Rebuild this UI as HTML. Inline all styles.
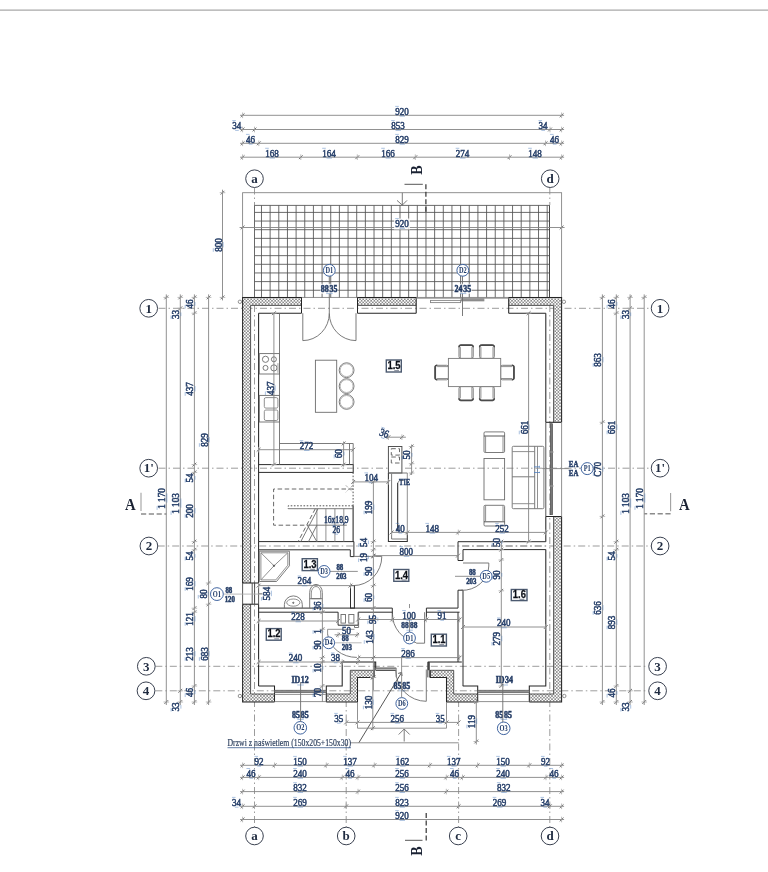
<!DOCTYPE html>
<html><head><meta charset="utf-8"><title>Plan</title>
<style>
html,body{margin:0;padding:0;background:#fff;}
body{width:768px;height:872px;overflow:hidden;font-family:"Liberation Serif",serif;}
svg{display:block;position:absolute;left:0;top:0;filter:blur(0.3px);}
.t{stroke:#858585;stroke-width:.9;fill:none;}
.tk{stroke:#5a5a5a;stroke-width:.85;fill:none;}
.tl{stroke:#a8a8a8;stroke-width:.8;fill:none;}
.k{stroke:#444;stroke-width:.9;fill:none;}
.f{stroke:#6c6c6c;stroke-width:.9;fill:none;}
.tf{stroke:#7a7a7a;stroke-width:.9;fill:#fff;}
.kb{stroke:#4a4a4a;stroke-width:1.5;fill:none;}
.w{stroke:#242424;stroke-width:1.05;fill:none;}
.wf{stroke:#242424;stroke-width:1.05;fill:#fff;}
.wi{stroke:#2c2c2c;stroke-width:1.0;fill:none;}
.wif{stroke:#2c2c2c;stroke-width:1.0;fill:#fff;}
.h{stroke:none;fill:url(#hx);}
.ho{stroke:#222;stroke-width:.7;fill:url(#hx);}
.g{stroke:#525252;stroke-width:.85;fill:none;}
.da{stroke:#8a8a8a;stroke-width:.85;fill:none;stroke-dasharray:7 3 1.5 3;}
.td{stroke:#999;stroke-width:.8;fill:none;stroke-dasharray:3 1.5;}
.ds{stroke:#686868;stroke-width:1;fill:none;stroke-dasharray:4.5 2.6;}
.dd{stroke:#555;stroke-width:1;fill:none;stroke-dasharray:1.6 1.6;}
.sa{stroke:#a0a0a0;stroke-width:1.1;fill:none;}
.secA{stroke:#8c8c8c;stroke-width:1.4;fill:none;stroke-dasharray:5.2 2.6;}
.sec{stroke:#333;stroke-width:1.2;fill:none;stroke-dasharray:5 2.5;}
.bl{stroke:#3f72b8;stroke-width:.8;fill:none;opacity:.55;}
.ac{stroke:#3a4150;stroke-width:1;fill:#fff;}
.tc{stroke:#3f64a0;stroke-width:1;fill:#fff;}
.rb{stroke:#4c5a70;stroke-width:1.4;fill:#fff;}
.ru{stroke:#6a7383;stroke-width:.9;}
text{font-family:"Liberation Serif",serif;}
.d{fill:#1f3252;stroke:#2a4470;stroke-width:.55;}
.ax{fill:#1f2b40;font-weight:bold;font-size:13px;}
.tg{fill:#1f3a68;font-size:8px;font-weight:bold;}
.rm{font-family:"Liberation Sans",sans-serif;font-weight:bold;font-size:11px;fill:#0c1018;stroke:#0c1018;stroke-width:.25;}
.hl{fill:#fff;stroke:none;opacity:.8;}
.b{font-weight:bold;}
.kf{stroke:#4a4a4a;stroke-width:.95;fill:#fff;}
.k2{stroke:#333;stroke-width:1.05;fill:none;}
.dl{fill:#2a3d5c;stroke:#2b3f5e;stroke-width:.2;}
.ul{stroke:#3a5a8c;stroke-width:.8;}
.gb{fill:#b5b5b5;stroke:none;}
.gb2{fill:#8f8f8f;stroke:#555;stroke-width:.6;}
.gb3{fill:#777;stroke:#444;stroke-width:.6;}
.bt{fill:#4f7fc0;}
.sb{fill:#1a2233;font-weight:bold;}
</style></head><body>
<svg width="768" height="872" viewBox="0 0 768 872">
<defs>
<pattern id="hx" width="3.2" height="3.2" patternUnits="userSpaceOnUse">
<rect width="3.2" height="3.2" fill="#fff"/>
<path d="M-0.8,0.8 L0.8,-0.8 M0,3.2 L3.2,0 M2.4,4 L4,2.4 M-0.8,2.4 L0.8,4 M0,0 L3.2,3.2 M2.4,-0.8 L4,0.8" stroke="#3a3a3a" stroke-width=".47" fill="none"/>
</pattern>
</defs>
<rect x="0" y="0" width="768" height="872" fill="#fff"/>
<line x1="0" y1="10.1" x2="768" y2="10.1" stroke="#a8a8a8" stroke-width="1.4"/>
<rect class="t" x="242.60" y="192.70" width="319.00" height="104.70" />
<line class="g" x1="254.50" y1="205.40" x2="254.50" y2="297.40" />
<line class="g" x1="261.47" y1="205.40" x2="261.47" y2="297.40" />
<line class="g" x1="270.13" y1="205.40" x2="270.13" y2="297.40" />
<line class="g" x1="278.79" y1="205.40" x2="278.79" y2="297.40" />
<line class="g" x1="287.44" y1="205.40" x2="287.44" y2="297.40" />
<line class="g" x1="296.10" y1="205.40" x2="296.10" y2="297.40" />
<line class="g" x1="304.76" y1="205.40" x2="304.76" y2="297.40" />
<line class="g" x1="313.42" y1="205.40" x2="313.42" y2="297.40" />
<line class="g" x1="322.08" y1="205.40" x2="322.08" y2="297.40" />
<line class="g" x1="330.73" y1="205.40" x2="330.73" y2="297.40" />
<line class="g" x1="339.39" y1="205.40" x2="339.39" y2="297.40" />
<line class="g" x1="348.05" y1="205.40" x2="348.05" y2="297.40" />
<line class="g" x1="356.71" y1="205.40" x2="356.71" y2="297.40" />
<line class="g" x1="365.37" y1="205.40" x2="365.37" y2="297.40" />
<line class="g" x1="374.02" y1="205.40" x2="374.02" y2="297.40" />
<line class="g" x1="382.68" y1="205.40" x2="382.68" y2="297.40" />
<line class="g" x1="391.34" y1="205.40" x2="391.34" y2="297.40" />
<line class="g" x1="400.00" y1="205.40" x2="400.00" y2="297.40" />
<line class="g" x1="408.66" y1="205.40" x2="408.66" y2="297.40" />
<line class="g" x1="417.31" y1="205.40" x2="417.31" y2="297.40" />
<line class="g" x1="425.97" y1="205.40" x2="425.97" y2="297.40" />
<line class="g" x1="434.63" y1="205.40" x2="434.63" y2="297.40" />
<line class="g" x1="443.29" y1="205.40" x2="443.29" y2="297.40" />
<line class="g" x1="451.95" y1="205.40" x2="451.95" y2="297.40" />
<line class="g" x1="460.60" y1="205.40" x2="460.60" y2="297.40" />
<line class="g" x1="469.26" y1="205.40" x2="469.26" y2="297.40" />
<line class="g" x1="477.92" y1="205.40" x2="477.92" y2="297.40" />
<line class="g" x1="486.58" y1="205.40" x2="486.58" y2="297.40" />
<line class="g" x1="495.24" y1="205.40" x2="495.24" y2="297.40" />
<line class="g" x1="503.89" y1="205.40" x2="503.89" y2="297.40" />
<line class="g" x1="512.55" y1="205.40" x2="512.55" y2="297.40" />
<line class="g" x1="521.21" y1="205.40" x2="521.21" y2="297.40" />
<line class="g" x1="529.87" y1="205.40" x2="529.87" y2="297.40" />
<line class="g" x1="538.53" y1="205.40" x2="538.53" y2="297.40" />
<line class="g" x1="547.18" y1="205.40" x2="547.18" y2="297.40" />
<line class="g" x1="549.50" y1="205.40" x2="549.50" y2="297.40" />
<line class="g" x1="254.50" y1="205.40" x2="549.50" y2="205.40" />
<line class="g" x1="254.50" y1="212.40" x2="549.50" y2="212.40" />
<line class="g" x1="254.50" y1="221.05" x2="549.50" y2="221.05" />
<line class="g" x1="254.50" y1="229.70" x2="549.50" y2="229.70" />
<line class="g" x1="254.50" y1="238.35" x2="549.50" y2="238.35" />
<line class="g" x1="254.50" y1="247.00" x2="549.50" y2="247.00" />
<line class="g" x1="254.50" y1="255.65" x2="549.50" y2="255.65" />
<line class="g" x1="254.50" y1="264.30" x2="549.50" y2="264.30" />
<line class="g" x1="254.50" y1="272.95" x2="549.50" y2="272.95" />
<line class="g" x1="254.50" y1="281.60" x2="549.50" y2="281.60" />
<line class="g" x1="254.50" y1="290.25" x2="549.50" y2="290.25" />
<line class="k" x1="549.50" y1="205.40" x2="549.50" y2="297.40" />
<line class="ds" x1="254.50" y1="205.40" x2="254.50" y2="297.40" />
<line class="t" x1="239.60" y1="227.50" x2="564.60" y2="227.50" />
<line class="tk" x1="240.70" y1="229.40" x2="244.50" y2="225.60" />
<line class="tl" x1="242.60" y1="224.70" x2="242.60" y2="230.30" />
<line class="tk" x1="559.70" y1="229.40" x2="563.50" y2="225.60" />
<line class="tl" x1="561.60" y1="224.70" x2="561.60" y2="230.30" />
<line class="f" x1="402.30" y1="192.80" x2="402.30" y2="205.10" />
<path class="f" d="M397.00,200.40 L402.30,205.10 L407.00,200.40" />
<line class="k" x1="404.50" y1="184.30" x2="422.80" y2="184.30" />
<line class="sec" x1="425.90" y1="184.30" x2="425.90" y2="212.40" />
<text class="sb" transform="translate(422.3,170.1) rotate(-90) scale(0.86,1)" font-size="16.5" text-anchor="middle">B</text>
<line class="da" x1="254.50" y1="187.50" x2="254.50" y2="205.00" />
<line class="da" x1="549.80" y1="187.50" x2="549.80" y2="205.00" />
<line class="da" x1="254.50" y1="700.00" x2="254.50" y2="827.00" />
<line class="da" x1="346.20" y1="700.00" x2="346.20" y2="827.00" />
<line class="da" x1="458.60" y1="700.00" x2="458.60" y2="827.00" />
<line class="da" x1="549.80" y1="700.00" x2="549.80" y2="827.00" />
<line class="da" x1="158.50" y1="308.30" x2="651.00" y2="308.30" />
<line class="da" x1="158.50" y1="468.20" x2="651.00" y2="468.20" />
<line class="da" x1="157.70" y1="546.00" x2="651.00" y2="546.00" />
<line class="da" x1="155.30" y1="666.30" x2="648.50" y2="666.30" />
<line class="da" x1="155.30" y1="690.80" x2="648.50" y2="690.80" />
<line class="da" x1="254.50" y1="305.00" x2="254.50" y2="694.00" />
<line class="da" x1="549.80" y1="305.00" x2="549.80" y2="694.00" />
<rect class="h" x="242.60" y="297.40" width="58.90" height="8.00" />
<rect class="h" x="357.50" y="297.40" width="58.70" height="8.00" />
<rect class="h" x="508.70" y="297.40" width="52.90" height="8.00" />
<rect class="h" x="242.60" y="297.40" width="8.00" height="285.60" />
<rect class="h" x="242.60" y="604.20" width="8.00" height="97.80" />
<rect class="h" x="553.60" y="297.40" width="8.00" height="124.90" />
<rect class="h" x="553.60" y="516.50" width="8.00" height="185.50" />
<rect class="h" x="242.60" y="694.00" width="31.90" height="8.00" />
<path class="h" d="M326.30,694.00 L350.30,694.00 L350.30,670.30 L373.70,670.30 L373.70,677.40 L357.50,677.40 L357.50,702.00 L326.30,702.00 Z" />
<path class="h" d="M477.70,694.00 L453.70,694.00 L453.70,670.30 L430.30,670.30 L430.30,677.40 L446.50,677.40 L446.50,702.00 L477.70,702.00 Z" />
<rect class="h" x="529.30" y="694.00" width="32.30" height="8.00" />
<line class="k" x1="250.60" y1="305.40" x2="301.50" y2="305.40" />
<line class="k" x1="357.50" y1="305.40" x2="416.20" y2="305.40" />
<line class="k" x1="508.70" y1="305.40" x2="553.60" y2="305.40" />
<line class="k" x1="250.60" y1="305.40" x2="250.60" y2="583.00" />
<line class="k" x1="250.60" y1="604.20" x2="250.60" y2="694.00" />
<line class="k" x1="553.60" y1="305.40" x2="553.60" y2="422.30" />
<line class="k" x1="553.60" y1="516.50" x2="553.60" y2="694.00" />
<line class="k" x1="250.60" y1="694.00" x2="274.50" y2="694.00" />
<line class="k" x1="326.30" y1="694.00" x2="350.30" y2="694.00" />
<line class="k" x1="350.30" y1="694.00" x2="350.30" y2="670.30" />
<line class="k" x1="350.30" y1="670.30" x2="373.70" y2="670.30" />
<line class="k" x1="477.70" y1="694.00" x2="453.70" y2="694.00" />
<line class="k" x1="453.70" y1="694.00" x2="453.70" y2="670.30" />
<line class="k" x1="453.70" y1="670.30" x2="430.30" y2="670.30" />
<line class="k" x1="529.30" y1="694.00" x2="553.60" y2="694.00" />
<path class="w" d="M301.50,297.40 L242.60,297.40 L242.60,583.00" />
<path class="w" d="M242.60,604.20 L242.60,702.00 L274.50,702.00" />
<path class="w" d="M326.30,702.00 L357.50,702.00 L357.50,677.40 L373.70,677.40 L373.70,670.30" />
<path class="w" d="M477.70,702.00 L446.50,702.00 L446.50,677.40 L430.30,677.40 L430.30,670.30" />
<path class="w" d="M529.30,702.00 L561.60,702.00 L561.60,516.50" />
<path class="w" d="M561.60,422.30 L561.60,297.40 L508.70,297.40" />
<line class="w" x1="357.50" y1="297.40" x2="416.20" y2="297.40" />
<line class="w" x1="301.50" y1="297.40" x2="301.50" y2="313.20" />
<line class="w" x1="357.50" y1="297.40" x2="357.50" y2="313.20" />
<line class="w" x1="416.20" y1="297.40" x2="416.20" y2="313.20" />
<line class="w" x1="508.70" y1="297.40" x2="508.70" y2="313.20" />
<line class="w" x1="258.60" y1="313.20" x2="301.50" y2="313.20" />
<line class="w" x1="357.50" y1="313.20" x2="416.20" y2="313.20" />
<line class="w" x1="508.70" y1="313.20" x2="545.80" y2="313.20" />
<line class="w" x1="545.80" y1="313.20" x2="545.80" y2="422.30" />
<line class="w" x1="545.80" y1="516.50" x2="545.80" y2="541.70" />
<line class="w" x1="258.60" y1="313.20" x2="258.60" y2="583.00" />
<line class="w" x1="258.60" y1="604.20" x2="258.60" y2="686.00" />
<line class="w" x1="242.60" y1="583.00" x2="258.60" y2="583.00" />
<line class="w" x1="242.60" y1="604.20" x2="258.60" y2="604.20" />
<line class="k" x1="242.60" y1="583.00" x2="242.60" y2="604.20" />
<line class="k" x1="258.60" y1="583.00" x2="258.60" y2="604.20" />
<line class="k" x1="252.20" y1="583.00" x2="252.20" y2="604.20" />
<line class="k" x1="254.60" y1="583.00" x2="254.60" y2="604.20" />
<line class="w" x1="545.80" y1="422.30" x2="561.60" y2="422.30" />
<line class="w" x1="545.80" y1="516.50" x2="561.60" y2="516.50" />
<line class="k" x1="545.80" y1="422.30" x2="545.80" y2="516.50" />
<line class="t" x1="561.60" y1="422.30" x2="561.60" y2="516.50" />
<rect class="gb3" x="550.30" y="423.70" width="2.30" height="91.00" />
<line class="tl" x1="549.00" y1="452.00" x2="554.00" y2="452.00" />
<line class="tl" x1="549.00" y1="486.00" x2="554.00" y2="486.00" />
<path class="w" d="M258.60,686.00 L274.50,686.00 L274.50,702.00" />
<path class="w" d="M326.30,702.00 L326.30,686.00 L342.20,686.00 L342.20,662.00 L375.70,662.00 L375.70,670.30" />
<rect class="gb2" x="274.50" y="690.20" width="51.80" height="2.50" />
<line class="t" x1="274.50" y1="694.40" x2="326.30" y2="694.40" />
<line class="t" x1="274.50" y1="701.60" x2="326.30" y2="701.60" />
<path class="w" d="M545.80,549.60 L545.80,686.00 L529.30,686.00 L529.30,702.00" />
<path class="w" d="M477.70,702.00 L477.70,686.00 L462.80,686.00" />
<path class="w" d="M428.30,670.30 L428.30,662.00 L461.80,662.00" />
<rect class="gb2" x="477.70" y="690.20" width="51.60" height="2.50" />
<line class="t" x1="477.70" y1="694.40" x2="529.30" y2="694.40" />
<line class="t" x1="477.70" y1="701.60" x2="529.30" y2="701.60" />
<circle class="t" cx="239.90" cy="301.80" r="1.70" />
<circle class="t" cx="563.90" cy="301.80" r="1.70" />
<circle class="t" cx="239.90" cy="696.00" r="1.70" />
<circle class="t" cx="564.30" cy="696.00" r="1.70" />
<line class="t" x1="240.10" y1="115.30" x2="564.10" y2="115.30" />
<line class="tk" x1="240.70" y1="117.20" x2="244.50" y2="113.40" />
<line class="tl" x1="242.60" y1="112.50" x2="242.60" y2="118.10" />
<line class="tk" x1="559.70" y1="117.20" x2="563.50" y2="113.40" />
<line class="tl" x1="561.60" y1="112.50" x2="561.60" y2="118.10" />
<line class="t" x1="240.10" y1="129.50" x2="564.10" y2="129.50" />
<line class="tk" x1="240.70" y1="131.40" x2="244.50" y2="127.60" />
<line class="tl" x1="242.60" y1="126.70" x2="242.60" y2="132.30" />
<line class="tk" x1="252.60" y1="131.40" x2="256.40" y2="127.60" />
<line class="tl" x1="254.50" y1="126.70" x2="254.50" y2="132.30" />
<line class="tk" x1="548.10" y1="131.40" x2="551.90" y2="127.60" />
<line class="tl" x1="550.00" y1="126.70" x2="550.00" y2="132.30" />
<line class="tk" x1="559.70" y1="131.40" x2="563.50" y2="127.60" />
<line class="tl" x1="561.60" y1="126.70" x2="561.60" y2="132.30" />
<line class="t" x1="240.10" y1="143.30" x2="564.10" y2="143.30" />
<line class="tk" x1="240.70" y1="145.20" x2="244.50" y2="141.40" />
<line class="tl" x1="242.60" y1="140.50" x2="242.60" y2="146.10" />
<line class="tk" x1="256.90" y1="145.20" x2="260.70" y2="141.40" />
<line class="tl" x1="258.80" y1="140.50" x2="258.80" y2="146.10" />
<line class="tk" x1="543.60" y1="145.20" x2="547.40" y2="141.40" />
<line class="tl" x1="545.50" y1="140.50" x2="545.50" y2="146.10" />
<line class="tk" x1="559.70" y1="145.20" x2="563.50" y2="141.40" />
<line class="tl" x1="561.60" y1="140.50" x2="561.60" y2="146.10" />
<line class="t" x1="240.10" y1="157.20" x2="564.10" y2="157.20" />
<line class="tk" x1="240.70" y1="159.10" x2="244.50" y2="155.30" />
<line class="tl" x1="242.60" y1="154.40" x2="242.60" y2="160.00" />
<line class="tk" x1="298.90" y1="159.10" x2="302.70" y2="155.30" />
<line class="tl" x1="300.80" y1="154.40" x2="300.80" y2="160.00" />
<line class="tk" x1="355.40" y1="159.10" x2="359.20" y2="155.30" />
<line class="tl" x1="357.30" y1="154.40" x2="357.30" y2="160.00" />
<line class="tk" x1="413.40" y1="159.10" x2="417.20" y2="155.30" />
<line class="tl" x1="415.30" y1="154.40" x2="415.30" y2="160.00" />
<line class="tk" x1="507.60" y1="159.10" x2="511.40" y2="155.30" />
<line class="tl" x1="509.50" y1="154.40" x2="509.50" y2="160.00" />
<line class="tk" x1="559.70" y1="159.10" x2="563.50" y2="155.30" />
<line class="tl" x1="561.60" y1="154.40" x2="561.60" y2="160.00" />
<text class="d" transform="translate(402.00,114.60) scale(0.84,1)" font-size="10.8" text-anchor="middle">920</text>
<g transform="translate(402.00,114.60)"><line class="bl" x1="-2.45" y1="1.6" x2="2.99" y2="1.6"/><line class="bl" x1="-6.80" y1="-8.21" x2="-3.20" y2="-8.21"/></g>
<text class="d" transform="translate(398.00,128.80) scale(0.84,1)" font-size="10.8" text-anchor="middle">853</text>
<g transform="translate(398.00,128.80)"><line class="bl" x1="-2.45" y1="1.6" x2="2.99" y2="1.6"/><line class="bl" x1="-6.80" y1="-8.21" x2="-3.20" y2="-8.21"/></g>
<text class="d" transform="translate(402.00,142.60) scale(0.84,1)" font-size="10.8" text-anchor="middle">829</text>
<g transform="translate(402.00,142.60)"><line class="bl" x1="-2.45" y1="1.6" x2="2.99" y2="1.6"/><line class="bl" x1="-6.80" y1="-8.21" x2="-3.20" y2="-8.21"/></g>
<text class="d" transform="translate(236.80,128.80) scale(0.84,1)" font-size="10.8" text-anchor="middle">34</text>
<g transform="translate(236.80,128.80)"><line class="bl" x1="-1.63" y1="1.6" x2="2.00" y2="1.6"/><line class="bl" x1="-4.54" y1="-8.21" x2="-0.94" y2="-8.21"/></g>
<text class="d" transform="translate(250.50,142.60) scale(0.84,1)" font-size="10.8" text-anchor="middle">46</text>
<g transform="translate(250.50,142.60)"><line class="bl" x1="-1.63" y1="1.6" x2="2.00" y2="1.6"/><line class="bl" x1="-4.54" y1="-8.21" x2="-0.94" y2="-8.21"/></g>
<text class="d" transform="translate(543.00,128.80) scale(0.84,1)" font-size="10.8" text-anchor="middle">34</text>
<g transform="translate(543.00,128.80)"><line class="bl" x1="-1.63" y1="1.6" x2="2.00" y2="1.6"/><line class="bl" x1="-4.54" y1="-8.21" x2="-0.94" y2="-8.21"/></g>
<text class="d" transform="translate(554.50,142.60) scale(0.84,1)" font-size="10.8" text-anchor="middle">46</text>
<g transform="translate(554.50,142.60)"><line class="bl" x1="-1.63" y1="1.6" x2="2.00" y2="1.6"/><line class="bl" x1="-4.54" y1="-8.21" x2="-0.94" y2="-8.21"/></g>
<text class="d" transform="translate(272.00,156.50) scale(0.84,1)" font-size="10.8" text-anchor="middle">168</text>
<g transform="translate(272.00,156.50)"><line class="bl" x1="-2.45" y1="1.6" x2="2.99" y2="1.6"/><line class="bl" x1="-6.80" y1="-8.21" x2="-3.20" y2="-8.21"/></g>
<text class="d" transform="translate(329.00,156.50) scale(0.84,1)" font-size="10.8" text-anchor="middle">164</text>
<g transform="translate(329.00,156.50)"><line class="bl" x1="-2.45" y1="1.6" x2="2.99" y2="1.6"/><line class="bl" x1="-6.80" y1="-8.21" x2="-3.20" y2="-8.21"/></g>
<text class="d" transform="translate(388.00,156.50) scale(0.84,1)" font-size="10.8" text-anchor="middle">166</text>
<g transform="translate(388.00,156.50)"><line class="bl" x1="-2.45" y1="1.6" x2="2.99" y2="1.6"/><line class="bl" x1="-6.80" y1="-8.21" x2="-3.20" y2="-8.21"/></g>
<text class="d" transform="translate(462.50,156.50) scale(0.84,1)" font-size="10.8" text-anchor="middle">274</text>
<g transform="translate(462.50,156.50)"><line class="bl" x1="-2.45" y1="1.6" x2="2.99" y2="1.6"/><line class="bl" x1="-6.80" y1="-8.21" x2="-3.20" y2="-8.21"/></g>
<text class="d" transform="translate(535.00,156.50) scale(0.84,1)" font-size="10.8" text-anchor="middle">148</text>
<g transform="translate(535.00,156.50)"><line class="bl" x1="-2.45" y1="1.6" x2="2.99" y2="1.6"/><line class="bl" x1="-6.80" y1="-8.21" x2="-3.20" y2="-8.21"/></g>
<rect class="hl" x="394.00" y="218.50" width="16.00" height="11.00" />
<text class="d" transform="translate(402.00,226.80) scale(0.84,1)" font-size="10.8" text-anchor="middle">920</text>
<g transform="translate(402.00,226.80)"><line class="bl" x1="-2.45" y1="1.6" x2="2.99" y2="1.6"/><line class="bl" x1="-6.80" y1="-8.21" x2="-3.20" y2="-8.21"/></g>
<line class="t" x1="222.50" y1="189.70" x2="222.50" y2="300.40" />
<line class="tk" x1="220.60" y1="194.60" x2="224.40" y2="190.80" />
<line class="tl" x1="219.70" y1="192.70" x2="225.30" y2="192.70" />
<line class="tk" x1="220.60" y1="299.30" x2="224.40" y2="295.50" />
<line class="tl" x1="219.70" y1="297.40" x2="225.30" y2="297.40" />
<text class="d" transform="translate(221.50,245.00) rotate(-90) scale(0.84,1)" font-size="10.8" text-anchor="middle">800</text>
<g transform="translate(221.50,245.00) rotate(-90)"><line class="bl" x1="-2.45" y1="1.6" x2="2.99" y2="1.6"/><line class="bl" x1="-6.80" y1="-8.21" x2="-3.20" y2="-8.21"/></g>
<line class="t" x1="166.30" y1="294.40" x2="166.30" y2="705.00" />
<line class="t" x1="180.30" y1="294.40" x2="180.30" y2="705.00" />
<line class="t" x1="194.40" y1="294.40" x2="194.40" y2="705.00" />
<line class="t" x1="208.60" y1="294.40" x2="208.60" y2="705.00" />
<line class="tk" x1="164.40" y1="299.30" x2="168.20" y2="295.50" />
<line class="tl" x1="163.50" y1="297.40" x2="169.10" y2="297.40" />
<line class="tk" x1="164.40" y1="703.90" x2="168.20" y2="700.10" />
<line class="tl" x1="163.50" y1="702.00" x2="169.10" y2="702.00" />
<line class="tk" x1="178.40" y1="299.30" x2="182.20" y2="295.50" />
<line class="tl" x1="177.50" y1="297.40" x2="183.10" y2="297.40" />
<line class="tk" x1="178.40" y1="703.90" x2="182.20" y2="700.10" />
<line class="tl" x1="177.50" y1="702.00" x2="183.10" y2="702.00" />
<line class="tk" x1="192.50" y1="299.30" x2="196.30" y2="295.50" />
<line class="tl" x1="191.60" y1="297.40" x2="197.20" y2="297.40" />
<line class="tk" x1="192.50" y1="703.90" x2="196.30" y2="700.10" />
<line class="tl" x1="191.60" y1="702.00" x2="197.20" y2="702.00" />
<line class="tk" x1="206.70" y1="299.30" x2="210.50" y2="295.50" />
<line class="tl" x1="205.80" y1="297.40" x2="211.40" y2="297.40" />
<line class="tk" x1="206.70" y1="703.90" x2="210.50" y2="700.10" />
<line class="tl" x1="205.80" y1="702.00" x2="211.40" y2="702.00" />
<line class="tk" x1="178.40" y1="310.20" x2="182.20" y2="306.40" />
<line class="tl" x1="177.50" y1="308.30" x2="183.10" y2="308.30" />
<line class="tk" x1="178.40" y1="692.70" x2="182.20" y2="688.90" />
<line class="tl" x1="177.50" y1="690.80" x2="183.10" y2="690.80" />
<line class="tk" x1="192.50" y1="315.10" x2="196.30" y2="311.30" />
<line class="tl" x1="191.60" y1="313.20" x2="197.20" y2="313.20" />
<line class="tk" x1="192.50" y1="466.50" x2="196.30" y2="462.70" />
<line class="tl" x1="191.60" y1="464.60" x2="197.20" y2="464.60" />
<line class="tk" x1="192.50" y1="474.30" x2="196.30" y2="470.50" />
<line class="tl" x1="191.60" y1="472.40" x2="197.20" y2="472.40" />
<line class="tk" x1="192.50" y1="543.50" x2="196.30" y2="539.70" />
<line class="tl" x1="191.60" y1="541.60" x2="197.20" y2="541.60" />
<line class="tk" x1="192.50" y1="551.70" x2="196.30" y2="547.90" />
<line class="tl" x1="191.60" y1="549.80" x2="197.20" y2="549.80" />
<line class="tk" x1="192.50" y1="610.10" x2="196.30" y2="606.30" />
<line class="tl" x1="191.60" y1="608.20" x2="197.20" y2="608.20" />
<line class="tk" x1="192.50" y1="614.10" x2="196.30" y2="610.30" />
<line class="tl" x1="191.60" y1="612.20" x2="197.20" y2="612.20" />
<line class="tk" x1="192.50" y1="687.90" x2="196.30" y2="684.10" />
<line class="tl" x1="191.60" y1="686.00" x2="197.20" y2="686.00" />
<line class="tk" x1="206.70" y1="584.90" x2="210.50" y2="581.10" />
<line class="tl" x1="205.80" y1="583.00" x2="211.40" y2="583.00" />
<line class="tk" x1="206.70" y1="606.10" x2="210.50" y2="602.30" />
<line class="tl" x1="205.80" y1="604.20" x2="211.40" y2="604.20" />
<text class="d" transform="translate(179.30,314.50) rotate(-90) scale(0.84,1)" font-size="10.8" text-anchor="middle">33</text>
<g transform="translate(179.30,314.50) rotate(-90)"><line class="bl" x1="-1.63" y1="1.6" x2="2.00" y2="1.6"/><line class="bl" x1="-4.54" y1="-8.21" x2="-0.94" y2="-8.21"/></g>
<text class="d" transform="translate(193.40,304.00) rotate(-90) scale(0.84,1)" font-size="10.8" text-anchor="middle">46</text>
<g transform="translate(193.40,304.00) rotate(-90)"><line class="bl" x1="-1.63" y1="1.6" x2="2.00" y2="1.6"/><line class="bl" x1="-4.54" y1="-8.21" x2="-0.94" y2="-8.21"/></g>
<text class="d" transform="translate(193.40,389.00) rotate(-90) scale(0.84,1)" font-size="10.8" text-anchor="middle">437</text>
<g transform="translate(193.40,389.00) rotate(-90)"><line class="bl" x1="-2.45" y1="1.6" x2="2.99" y2="1.6"/><line class="bl" x1="-6.80" y1="-8.21" x2="-3.20" y2="-8.21"/></g>
<text class="d" transform="translate(207.60,440.00) rotate(-90) scale(0.84,1)" font-size="10.8" text-anchor="middle">829</text>
<g transform="translate(207.60,440.00) rotate(-90)"><line class="bl" x1="-2.45" y1="1.6" x2="2.99" y2="1.6"/><line class="bl" x1="-6.80" y1="-8.21" x2="-3.20" y2="-8.21"/></g>
<text class="d" transform="translate(193.40,478.00) rotate(-90) scale(0.84,1)" font-size="10.8" text-anchor="middle">54</text>
<g transform="translate(193.40,478.00) rotate(-90)"><line class="bl" x1="-1.63" y1="1.6" x2="2.00" y2="1.6"/><line class="bl" x1="-4.54" y1="-8.21" x2="-0.94" y2="-8.21"/></g>
<text class="d" transform="translate(165.30,498.50) rotate(-90) scale(0.84,1)" font-size="10.8" text-anchor="middle">1 170</text>
<g transform="translate(165.30,498.50) rotate(-90)"><line class="bl" x1="-4.08" y1="1.6" x2="4.99" y2="1.6"/><line class="bl" x1="-11.34" y1="-8.21" x2="-7.74" y2="-8.21"/></g>
<text class="d" transform="translate(179.30,503.50) rotate(-90) scale(0.84,1)" font-size="10.8" text-anchor="middle">1 103</text>
<g transform="translate(179.30,503.50) rotate(-90)"><line class="bl" x1="-4.08" y1="1.6" x2="4.99" y2="1.6"/><line class="bl" x1="-11.34" y1="-8.21" x2="-7.74" y2="-8.21"/></g>
<text class="d" transform="translate(193.40,511.00) rotate(-90) scale(0.84,1)" font-size="10.8" text-anchor="middle">200</text>
<g transform="translate(193.40,511.00) rotate(-90)"><line class="bl" x1="-2.45" y1="1.6" x2="2.99" y2="1.6"/><line class="bl" x1="-6.80" y1="-8.21" x2="-3.20" y2="-8.21"/></g>
<text class="d" transform="translate(193.40,556.00) rotate(-90) scale(0.84,1)" font-size="10.8" text-anchor="middle">54</text>
<g transform="translate(193.40,556.00) rotate(-90)"><line class="bl" x1="-1.63" y1="1.6" x2="2.00" y2="1.6"/><line class="bl" x1="-4.54" y1="-8.21" x2="-0.94" y2="-8.21"/></g>
<text class="d" transform="translate(193.40,584.00) rotate(-90) scale(0.84,1)" font-size="10.8" text-anchor="middle">169</text>
<g transform="translate(193.40,584.00) rotate(-90)"><line class="bl" x1="-2.45" y1="1.6" x2="2.99" y2="1.6"/><line class="bl" x1="-6.80" y1="-8.21" x2="-3.20" y2="-8.21"/></g>
<text class="d" transform="translate(206.50,594.00) rotate(-90) scale(0.84,1)" font-size="10.8" text-anchor="middle">80</text>
<g transform="translate(206.50,594.00) rotate(-90)"><line class="bl" x1="-1.63" y1="1.6" x2="2.00" y2="1.6"/><line class="bl" x1="-4.54" y1="-8.21" x2="-0.94" y2="-8.21"/></g>
<text class="d" transform="translate(193.40,619.00) rotate(-90) scale(0.84,1)" font-size="10.8" text-anchor="middle">121</text>
<g transform="translate(193.40,619.00) rotate(-90)"><line class="bl" x1="-2.45" y1="1.6" x2="2.99" y2="1.6"/><line class="bl" x1="-6.80" y1="-8.21" x2="-3.20" y2="-8.21"/></g>
<text class="d" transform="translate(193.40,654.00) rotate(-90) scale(0.84,1)" font-size="10.8" text-anchor="middle">213</text>
<g transform="translate(193.40,654.00) rotate(-90)"><line class="bl" x1="-2.45" y1="1.6" x2="2.99" y2="1.6"/><line class="bl" x1="-6.80" y1="-8.21" x2="-3.20" y2="-8.21"/></g>
<text class="d" transform="translate(207.60,654.00) rotate(-90) scale(0.84,1)" font-size="10.8" text-anchor="middle">683</text>
<g transform="translate(207.60,654.00) rotate(-90)"><line class="bl" x1="-2.45" y1="1.6" x2="2.99" y2="1.6"/><line class="bl" x1="-6.80" y1="-8.21" x2="-3.20" y2="-8.21"/></g>
<text class="d" transform="translate(193.40,692.50) rotate(-90) scale(0.84,1)" font-size="10.8" text-anchor="middle">46</text>
<g transform="translate(193.40,692.50) rotate(-90)"><line class="bl" x1="-1.63" y1="1.6" x2="2.00" y2="1.6"/><line class="bl" x1="-4.54" y1="-8.21" x2="-0.94" y2="-8.21"/></g>
<text class="d" transform="translate(179.30,707.00) rotate(-90) scale(0.84,1)" font-size="10.8" text-anchor="middle">33</text>
<g transform="translate(179.30,707.00) rotate(-90)"><line class="bl" x1="-1.63" y1="1.6" x2="2.00" y2="1.6"/><line class="bl" x1="-4.54" y1="-8.21" x2="-0.94" y2="-8.21"/></g>
<line class="t" x1="602.40" y1="294.40" x2="602.40" y2="705.00" />
<line class="t" x1="616.30" y1="294.40" x2="616.30" y2="705.00" />
<line class="t" x1="630.10" y1="294.40" x2="630.10" y2="705.00" />
<line class="t" x1="644.20" y1="294.40" x2="644.20" y2="705.00" />
<line class="tk" x1="600.50" y1="299.30" x2="604.30" y2="295.50" />
<line class="tl" x1="599.60" y1="297.40" x2="605.20" y2="297.40" />
<line class="tk" x1="600.50" y1="703.90" x2="604.30" y2="700.10" />
<line class="tl" x1="599.60" y1="702.00" x2="605.20" y2="702.00" />
<line class="tk" x1="614.40" y1="299.30" x2="618.20" y2="295.50" />
<line class="tl" x1="613.50" y1="297.40" x2="619.10" y2="297.40" />
<line class="tk" x1="614.40" y1="703.90" x2="618.20" y2="700.10" />
<line class="tl" x1="613.50" y1="702.00" x2="619.10" y2="702.00" />
<line class="tk" x1="628.20" y1="299.30" x2="632.00" y2="295.50" />
<line class="tl" x1="627.30" y1="297.40" x2="632.90" y2="297.40" />
<line class="tk" x1="628.20" y1="703.90" x2="632.00" y2="700.10" />
<line class="tl" x1="627.30" y1="702.00" x2="632.90" y2="702.00" />
<line class="tk" x1="642.30" y1="299.30" x2="646.10" y2="295.50" />
<line class="tl" x1="641.40" y1="297.40" x2="647.00" y2="297.40" />
<line class="tk" x1="642.30" y1="703.90" x2="646.10" y2="700.10" />
<line class="tl" x1="641.40" y1="702.00" x2="647.00" y2="702.00" />
<line class="tk" x1="628.20" y1="310.20" x2="632.00" y2="306.40" />
<line class="tl" x1="627.30" y1="308.30" x2="632.90" y2="308.30" />
<line class="tk" x1="628.20" y1="692.70" x2="632.00" y2="688.90" />
<line class="tl" x1="627.30" y1="690.80" x2="632.90" y2="690.80" />
<line class="tk" x1="614.40" y1="315.10" x2="618.20" y2="311.30" />
<line class="tl" x1="613.50" y1="313.20" x2="619.10" y2="313.20" />
<line class="tk" x1="614.40" y1="543.60" x2="618.20" y2="539.80" />
<line class="tl" x1="613.50" y1="541.70" x2="619.10" y2="541.70" />
<line class="tk" x1="614.40" y1="551.70" x2="618.20" y2="547.90" />
<line class="tl" x1="613.50" y1="549.80" x2="619.10" y2="549.80" />
<line class="tk" x1="614.40" y1="687.90" x2="618.20" y2="684.10" />
<line class="tl" x1="613.50" y1="686.00" x2="619.10" y2="686.00" />
<line class="tk" x1="600.50" y1="424.20" x2="604.30" y2="420.40" />
<line class="tl" x1="599.60" y1="422.30" x2="605.20" y2="422.30" />
<line class="tk" x1="600.50" y1="518.30" x2="604.30" y2="514.50" />
<line class="tl" x1="599.60" y1="516.40" x2="605.20" y2="516.40" />
<text class="d" transform="translate(615.30,304.00) rotate(-90) scale(0.84,1)" font-size="10.8" text-anchor="middle">46</text>
<g transform="translate(615.30,304.00) rotate(-90)"><line class="bl" x1="-1.63" y1="1.6" x2="2.00" y2="1.6"/><line class="bl" x1="-4.54" y1="-8.21" x2="-0.94" y2="-8.21"/></g>
<text class="d" transform="translate(629.10,314.50) rotate(-90) scale(0.84,1)" font-size="10.8" text-anchor="middle">33</text>
<g transform="translate(629.10,314.50) rotate(-90)"><line class="bl" x1="-1.63" y1="1.6" x2="2.00" y2="1.6"/><line class="bl" x1="-4.54" y1="-8.21" x2="-0.94" y2="-8.21"/></g>
<text class="d" transform="translate(601.40,360.00) rotate(-90) scale(0.84,1)" font-size="10.8" text-anchor="middle">863</text>
<g transform="translate(601.40,360.00) rotate(-90)"><line class="bl" x1="-2.45" y1="1.6" x2="2.99" y2="1.6"/><line class="bl" x1="-6.80" y1="-8.21" x2="-3.20" y2="-8.21"/></g>
<text class="d" transform="translate(615.30,427.50) rotate(-90) scale(0.84,1)" font-size="10.8" text-anchor="middle">661</text>
<g transform="translate(615.30,427.50) rotate(-90)"><line class="bl" x1="-2.45" y1="1.6" x2="2.99" y2="1.6"/><line class="bl" x1="-6.80" y1="-8.21" x2="-3.20" y2="-8.21"/></g>
<text class="d" transform="translate(629.10,503.50) rotate(-90) scale(0.84,1)" font-size="10.8" text-anchor="middle">1 103</text>
<g transform="translate(629.10,503.50) rotate(-90)"><line class="bl" x1="-4.08" y1="1.6" x2="4.99" y2="1.6"/><line class="bl" x1="-11.34" y1="-8.21" x2="-7.74" y2="-8.21"/></g>
<text class="d" transform="translate(643.20,498.50) rotate(-90) scale(0.84,1)" font-size="10.8" text-anchor="middle">1 170</text>
<g transform="translate(643.20,498.50) rotate(-90)"><line class="bl" x1="-4.08" y1="1.6" x2="4.99" y2="1.6"/><line class="bl" x1="-11.34" y1="-8.21" x2="-7.74" y2="-8.21"/></g>
<text class="d" transform="translate(615.30,556.00) rotate(-90) scale(0.84,1)" font-size="10.8" text-anchor="middle">54</text>
<g transform="translate(615.30,556.00) rotate(-90)"><line class="bl" x1="-1.63" y1="1.6" x2="2.00" y2="1.6"/><line class="bl" x1="-4.54" y1="-8.21" x2="-0.94" y2="-8.21"/></g>
<text class="d" transform="translate(601.40,608.00) rotate(-90) scale(0.84,1)" font-size="10.8" text-anchor="middle">636</text>
<g transform="translate(601.40,608.00) rotate(-90)"><line class="bl" x1="-2.45" y1="1.6" x2="2.99" y2="1.6"/><line class="bl" x1="-6.80" y1="-8.21" x2="-3.20" y2="-8.21"/></g>
<text class="d" transform="translate(615.30,622.50) rotate(-90) scale(0.84,1)" font-size="10.8" text-anchor="middle">893</text>
<g transform="translate(615.30,622.50) rotate(-90)"><line class="bl" x1="-2.45" y1="1.6" x2="2.99" y2="1.6"/><line class="bl" x1="-6.80" y1="-8.21" x2="-3.20" y2="-8.21"/></g>
<text class="d" transform="translate(615.30,693.00) rotate(-90) scale(0.84,1)" font-size="10.8" text-anchor="middle">46</text>
<g transform="translate(615.30,693.00) rotate(-90)"><line class="bl" x1="-1.63" y1="1.6" x2="2.00" y2="1.6"/><line class="bl" x1="-4.54" y1="-8.21" x2="-0.94" y2="-8.21"/></g>
<text class="d" transform="translate(629.10,707.00) rotate(-90) scale(0.84,1)" font-size="10.8" text-anchor="middle">33</text>
<g transform="translate(629.10,707.00) rotate(-90)"><line class="bl" x1="-1.63" y1="1.6" x2="2.00" y2="1.6"/><line class="bl" x1="-4.54" y1="-8.21" x2="-0.94" y2="-8.21"/></g>
<line class="t" x1="240.10" y1="765.30" x2="564.10" y2="765.30" />
<line class="tk" x1="240.70" y1="767.20" x2="244.50" y2="763.40" />
<line class="tl" x1="242.60" y1="762.50" x2="242.60" y2="768.10" />
<line class="tk" x1="272.60" y1="767.20" x2="276.40" y2="763.40" />
<line class="tl" x1="274.50" y1="762.50" x2="274.50" y2="768.10" />
<line class="tk" x1="324.40" y1="767.20" x2="328.20" y2="763.40" />
<line class="tl" x1="326.30" y1="762.50" x2="326.30" y2="768.10" />
<line class="tk" x1="372.40" y1="767.20" x2="376.20" y2="763.40" />
<line class="tl" x1="374.30" y1="762.50" x2="374.30" y2="768.10" />
<line class="tk" x1="427.90" y1="767.20" x2="431.70" y2="763.40" />
<line class="tl" x1="429.80" y1="762.50" x2="429.80" y2="768.10" />
<line class="tk" x1="475.70" y1="767.20" x2="479.50" y2="763.40" />
<line class="tl" x1="477.60" y1="762.50" x2="477.60" y2="768.10" />
<line class="tk" x1="527.40" y1="767.20" x2="531.20" y2="763.40" />
<line class="tl" x1="529.30" y1="762.50" x2="529.30" y2="768.10" />
<line class="tk" x1="559.70" y1="767.20" x2="563.50" y2="763.40" />
<line class="tl" x1="561.60" y1="762.50" x2="561.60" y2="768.10" />
<line class="t" x1="240.10" y1="777.40" x2="564.10" y2="777.40" />
<line class="tk" x1="240.70" y1="779.30" x2="244.50" y2="775.50" />
<line class="tl" x1="242.60" y1="774.60" x2="242.60" y2="780.20" />
<line class="tk" x1="256.80" y1="779.30" x2="260.60" y2="775.50" />
<line class="tl" x1="258.70" y1="774.60" x2="258.70" y2="780.20" />
<line class="tk" x1="340.40" y1="779.30" x2="344.20" y2="775.50" />
<line class="tl" x1="342.30" y1="774.60" x2="342.30" y2="780.20" />
<line class="tk" x1="356.10" y1="779.30" x2="359.90" y2="775.50" />
<line class="tl" x1="358.00" y1="774.60" x2="358.00" y2="780.20" />
<line class="tk" x1="444.40" y1="779.30" x2="448.20" y2="775.50" />
<line class="tl" x1="446.30" y1="774.60" x2="446.30" y2="780.20" />
<line class="tk" x1="460.60" y1="779.30" x2="464.40" y2="775.50" />
<line class="tl" x1="462.50" y1="774.60" x2="462.50" y2="780.20" />
<line class="tk" x1="544.10" y1="779.30" x2="547.90" y2="775.50" />
<line class="tl" x1="546.00" y1="774.60" x2="546.00" y2="780.20" />
<line class="tk" x1="559.70" y1="779.30" x2="563.50" y2="775.50" />
<line class="tl" x1="561.60" y1="774.60" x2="561.60" y2="780.20" />
<line class="t" x1="240.10" y1="791.60" x2="564.10" y2="791.60" />
<line class="tk" x1="240.70" y1="793.50" x2="244.50" y2="789.70" />
<line class="tl" x1="242.60" y1="788.80" x2="242.60" y2="794.40" />
<line class="tk" x1="356.10" y1="793.50" x2="359.90" y2="789.70" />
<line class="tl" x1="358.00" y1="788.80" x2="358.00" y2="794.40" />
<line class="tk" x1="444.40" y1="793.50" x2="448.20" y2="789.70" />
<line class="tl" x1="446.30" y1="788.80" x2="446.30" y2="794.40" />
<line class="tk" x1="559.70" y1="793.50" x2="563.50" y2="789.70" />
<line class="tl" x1="561.60" y1="788.80" x2="561.60" y2="794.40" />
<line class="t" x1="240.10" y1="806.30" x2="564.10" y2="806.30" />
<line class="tk" x1="240.70" y1="808.20" x2="244.50" y2="804.40" />
<line class="tl" x1="242.60" y1="803.50" x2="242.60" y2="809.10" />
<line class="tk" x1="252.60" y1="808.20" x2="256.40" y2="804.40" />
<line class="tl" x1="254.50" y1="803.50" x2="254.50" y2="809.10" />
<line class="tk" x1="344.30" y1="808.20" x2="348.10" y2="804.40" />
<line class="tl" x1="346.20" y1="803.50" x2="346.20" y2="809.10" />
<line class="tk" x1="456.70" y1="808.20" x2="460.50" y2="804.40" />
<line class="tl" x1="458.60" y1="803.50" x2="458.60" y2="809.10" />
<line class="tk" x1="547.90" y1="808.20" x2="551.70" y2="804.40" />
<line class="tl" x1="549.80" y1="803.50" x2="549.80" y2="809.10" />
<line class="tk" x1="559.70" y1="808.20" x2="563.50" y2="804.40" />
<line class="tl" x1="561.60" y1="803.50" x2="561.60" y2="809.10" />
<line class="t" x1="240.10" y1="819.50" x2="564.10" y2="819.50" />
<line class="tk" x1="240.70" y1="821.40" x2="244.50" y2="817.60" />
<line class="tl" x1="242.60" y1="816.70" x2="242.60" y2="822.30" />
<line class="tk" x1="559.70" y1="821.40" x2="563.50" y2="817.60" />
<line class="tl" x1="561.60" y1="816.70" x2="561.60" y2="822.30" />
<text class="d" transform="translate(259.00,764.60) scale(0.84,1)" font-size="10.8" text-anchor="middle">92</text>
<g transform="translate(259.00,764.60)"><line class="bl" x1="-1.63" y1="1.6" x2="2.00" y2="1.6"/><line class="bl" x1="-4.54" y1="-8.21" x2="-0.94" y2="-8.21"/></g>
<text class="d" transform="translate(300.00,764.60) scale(0.84,1)" font-size="10.8" text-anchor="middle">150</text>
<g transform="translate(300.00,764.60)"><line class="bl" x1="-2.45" y1="1.6" x2="2.99" y2="1.6"/><line class="bl" x1="-6.80" y1="-8.21" x2="-3.20" y2="-8.21"/></g>
<text class="d" transform="translate(350.00,764.60) scale(0.84,1)" font-size="10.8" text-anchor="middle">137</text>
<g transform="translate(350.00,764.60)"><line class="bl" x1="-2.45" y1="1.6" x2="2.99" y2="1.6"/><line class="bl" x1="-6.80" y1="-8.21" x2="-3.20" y2="-8.21"/></g>
<text class="d" transform="translate(402.50,764.60) scale(0.84,1)" font-size="10.8" text-anchor="middle">162</text>
<g transform="translate(402.50,764.60)"><line class="bl" x1="-2.45" y1="1.6" x2="2.99" y2="1.6"/><line class="bl" x1="-6.80" y1="-8.21" x2="-3.20" y2="-8.21"/></g>
<text class="d" transform="translate(453.70,764.60) scale(0.84,1)" font-size="10.8" text-anchor="middle">137</text>
<g transform="translate(453.70,764.60)"><line class="bl" x1="-2.45" y1="1.6" x2="2.99" y2="1.6"/><line class="bl" x1="-6.80" y1="-8.21" x2="-3.20" y2="-8.21"/></g>
<text class="d" transform="translate(503.00,764.60) scale(0.84,1)" font-size="10.8" text-anchor="middle">150</text>
<g transform="translate(503.00,764.60)"><line class="bl" x1="-2.45" y1="1.6" x2="2.99" y2="1.6"/><line class="bl" x1="-6.80" y1="-8.21" x2="-3.20" y2="-8.21"/></g>
<text class="d" transform="translate(545.50,764.60) scale(0.84,1)" font-size="10.8" text-anchor="middle">92</text>
<g transform="translate(545.50,764.60)"><line class="bl" x1="-1.63" y1="1.6" x2="2.00" y2="1.6"/><line class="bl" x1="-4.54" y1="-8.21" x2="-0.94" y2="-8.21"/></g>
<text class="d" transform="translate(251.00,776.70) scale(0.84,1)" font-size="10.8" text-anchor="middle">46</text>
<g transform="translate(251.00,776.70)"><line class="bl" x1="-1.63" y1="1.6" x2="2.00" y2="1.6"/><line class="bl" x1="-4.54" y1="-8.21" x2="-0.94" y2="-8.21"/></g>
<text class="d" transform="translate(300.00,776.70) scale(0.84,1)" font-size="10.8" text-anchor="middle">240</text>
<g transform="translate(300.00,776.70)"><line class="bl" x1="-2.45" y1="1.6" x2="2.99" y2="1.6"/><line class="bl" x1="-6.80" y1="-8.21" x2="-3.20" y2="-8.21"/></g>
<text class="d" transform="translate(350.00,776.70) scale(0.84,1)" font-size="10.8" text-anchor="middle">46</text>
<g transform="translate(350.00,776.70)"><line class="bl" x1="-1.63" y1="1.6" x2="2.00" y2="1.6"/><line class="bl" x1="-4.54" y1="-8.21" x2="-0.94" y2="-8.21"/></g>
<text class="d" transform="translate(402.00,776.70) scale(0.84,1)" font-size="10.8" text-anchor="middle">256</text>
<g transform="translate(402.00,776.70)"><line class="bl" x1="-2.45" y1="1.6" x2="2.99" y2="1.6"/><line class="bl" x1="-6.80" y1="-8.21" x2="-3.20" y2="-8.21"/></g>
<text class="d" transform="translate(454.50,776.70) scale(0.84,1)" font-size="10.8" text-anchor="middle">46</text>
<g transform="translate(454.50,776.70)"><line class="bl" x1="-1.63" y1="1.6" x2="2.00" y2="1.6"/><line class="bl" x1="-4.54" y1="-8.21" x2="-0.94" y2="-8.21"/></g>
<text class="d" transform="translate(503.00,776.70) scale(0.84,1)" font-size="10.8" text-anchor="middle">240</text>
<g transform="translate(503.00,776.70)"><line class="bl" x1="-2.45" y1="1.6" x2="2.99" y2="1.6"/><line class="bl" x1="-6.80" y1="-8.21" x2="-3.20" y2="-8.21"/></g>
<text class="d" transform="translate(554.00,776.70) scale(0.84,1)" font-size="10.8" text-anchor="middle">46</text>
<g transform="translate(554.00,776.70)"><line class="bl" x1="-1.63" y1="1.6" x2="2.00" y2="1.6"/><line class="bl" x1="-4.54" y1="-8.21" x2="-0.94" y2="-8.21"/></g>
<text class="d" transform="translate(300.00,790.90) scale(0.84,1)" font-size="10.8" text-anchor="middle">832</text>
<g transform="translate(300.00,790.90)"><line class="bl" x1="-2.45" y1="1.6" x2="2.99" y2="1.6"/><line class="bl" x1="-6.80" y1="-8.21" x2="-3.20" y2="-8.21"/></g>
<text class="d" transform="translate(402.00,790.90) scale(0.84,1)" font-size="10.8" text-anchor="middle">256</text>
<g transform="translate(402.00,790.90)"><line class="bl" x1="-2.45" y1="1.6" x2="2.99" y2="1.6"/><line class="bl" x1="-6.80" y1="-8.21" x2="-3.20" y2="-8.21"/></g>
<text class="d" transform="translate(503.70,790.90) scale(0.84,1)" font-size="10.8" text-anchor="middle">832</text>
<g transform="translate(503.70,790.90)"><line class="bl" x1="-2.45" y1="1.6" x2="2.99" y2="1.6"/><line class="bl" x1="-6.80" y1="-8.21" x2="-3.20" y2="-8.21"/></g>
<text class="d" transform="translate(236.50,805.60) scale(0.84,1)" font-size="10.8" text-anchor="middle">34</text>
<g transform="translate(236.50,805.60)"><line class="bl" x1="-1.63" y1="1.6" x2="2.00" y2="1.6"/><line class="bl" x1="-4.54" y1="-8.21" x2="-0.94" y2="-8.21"/></g>
<text class="d" transform="translate(300.00,805.60) scale(0.84,1)" font-size="10.8" text-anchor="middle">269</text>
<g transform="translate(300.00,805.60)"><line class="bl" x1="-2.45" y1="1.6" x2="2.99" y2="1.6"/><line class="bl" x1="-6.80" y1="-8.21" x2="-3.20" y2="-8.21"/></g>
<text class="d" transform="translate(402.00,805.60) scale(0.84,1)" font-size="10.8" text-anchor="middle">823</text>
<g transform="translate(402.00,805.60)"><line class="bl" x1="-2.45" y1="1.6" x2="2.99" y2="1.6"/><line class="bl" x1="-6.80" y1="-8.21" x2="-3.20" y2="-8.21"/></g>
<text class="d" transform="translate(499.50,805.60) scale(0.84,1)" font-size="10.8" text-anchor="middle">269</text>
<g transform="translate(499.50,805.60)"><line class="bl" x1="-2.45" y1="1.6" x2="2.99" y2="1.6"/><line class="bl" x1="-6.80" y1="-8.21" x2="-3.20" y2="-8.21"/></g>
<text class="d" transform="translate(545.00,805.60) scale(0.84,1)" font-size="10.8" text-anchor="middle">34</text>
<g transform="translate(545.00,805.60)"><line class="bl" x1="-1.63" y1="1.6" x2="2.00" y2="1.6"/><line class="bl" x1="-4.54" y1="-8.21" x2="-0.94" y2="-8.21"/></g>
<text class="d" transform="translate(402.00,818.80) scale(0.84,1)" font-size="10.8" text-anchor="middle">920</text>
<g transform="translate(402.00,818.80)"><line class="bl" x1="-2.45" y1="1.6" x2="2.99" y2="1.6"/><line class="bl" x1="-6.80" y1="-8.21" x2="-3.20" y2="-8.21"/></g>
<circle class="ac" cx="254.50" cy="178.70" r="8.80" />
<text class="ax" x="254.50" y="182.90" text-anchor="middle">a</text>
<circle class="ac" cx="550.20" cy="178.70" r="8.80" />
<text class="ax" x="550.20" y="182.90" text-anchor="middle">d</text>
<circle class="ac" cx="254.50" cy="836.00" r="8.80" />
<text class="ax" x="254.50" y="840.20" text-anchor="middle">a</text>
<circle class="ac" cx="346.20" cy="836.00" r="8.80" />
<text class="ax" x="346.20" y="840.20" text-anchor="middle">b</text>
<circle class="ac" cx="458.20" cy="836.00" r="8.80" />
<text class="ax" x="458.20" y="840.20" text-anchor="middle">c</text>
<circle class="ac" cx="550.00" cy="836.00" r="8.80" />
<text class="ax" x="550.00" y="840.20" text-anchor="middle">d</text>
<circle class="ac" cx="148.70" cy="308.30" r="8.85" />
<text class="ax" x="148.70" y="312.50" text-anchor="middle">1</text>
<circle class="ac" cx="660.10" cy="308.30" r="8.85" />
<text class="ax" x="660.10" y="312.50" text-anchor="middle">1</text>
<circle class="ac" cx="148.70" cy="468.20" r="8.85" />
<text class="ax" x="148.70" y="472.40" text-anchor="middle">1'</text>
<circle class="ac" cx="660.10" cy="468.20" r="8.85" />
<text class="ax" x="660.10" y="472.40" text-anchor="middle">1'</text>
<circle class="ac" cx="148.90" cy="546.00" r="8.85" />
<text class="ax" x="148.90" y="550.20" text-anchor="middle">2</text>
<circle class="ac" cx="660.10" cy="546.00" r="8.85" />
<text class="ax" x="660.10" y="550.20" text-anchor="middle">2</text>
<circle class="ac" cx="146.30" cy="666.30" r="8.85" />
<text class="ax" x="146.30" y="670.50" text-anchor="middle">3</text>
<circle class="ac" cx="657.60" cy="666.30" r="8.85" />
<text class="ax" x="657.60" y="670.50" text-anchor="middle">3</text>
<circle class="ac" cx="146.00" cy="690.80" r="8.85" />
<text class="ax" x="146.00" y="695.00" text-anchor="middle">4</text>
<circle class="ac" cx="657.60" cy="690.80" r="8.85" />
<text class="ax" x="657.60" y="695.00" text-anchor="middle">4</text>
<text class="sb" transform="translate(130.3,509.8) scale(0.9,1)" font-size="16.4" text-anchor="middle">A</text>
<line class="sa" x1="141.00" y1="492.80" x2="141.00" y2="511.00" />
<line class="secA" x1="141.00" y1="514.00" x2="166.40" y2="514.00" />
<text class="sb" transform="translate(684.3,509.8) scale(0.9,1)" font-size="16.4" text-anchor="middle">A</text>
<line class="sa" x1="670.60" y1="493.00" x2="670.60" y2="511.20" />
<line class="secA" x1="670.60" y1="513.80" x2="644.20" y2="513.80" />
<line class="sec" x1="426.20" y1="813.00" x2="426.20" y2="840.50" />
<line class="k" x1="405.00" y1="840.30" x2="422.50" y2="840.30" />
<text class="sb" transform="translate(422.3,851.0) rotate(-90) scale(0.86,1)" font-size="16.5" text-anchor="middle">B</text>
<rect class="wif" x="258.60" y="464.60" width="94.60" height="7.80" />
<path class="wif" d="M258.60,541.60 L353.90,541.60 L353.90,556.60 L350.30,556.60 L350.30,549.80 L258.60,549.80 Z" />
<rect class="wif" x="350.50" y="585.60" width="3.90" height="22.50" />
<path class="wi" d="M258.60,608.10 L392.30,608.10 L392.30,619.50" />
<path class="wi" d="M258.60,612.20 L338.10,612.20 L338.10,625.20 L358.20,625.20 L358.20,612.20 L392.30,612.20" />
<rect class="f" x="341.00" y="614.50" width="4.50" height="8.60" />
<rect class="f" x="348.80" y="614.50" width="5.10" height="8.60" />
<path class="wi" d="M426.40,619.50 L426.40,608.10 L458.00,608.10" />
<path class="wi" d="M426.40,612.20 L459.60,612.20" />
<path class="wi" d="M545.80,541.70 L458.00,541.70 L458.00,560.50 L463.00,560.50 L463.00,549.60 L545.80,549.60" />
<path class="wi" d="M458.00,608.10 L458.00,590.20 L463.00,590.20 L463.00,686.00" />
<line class="wi" x1="458.00" y1="612.20" x2="458.00" y2="662.00" />
<line class="dd" x1="353.10" y1="472.40" x2="353.10" y2="505.80" />
<line class="w" x1="353.10" y1="505.80" x2="353.10" y2="541.60" />
<path class="ds" d="M353.10,489.00 L273.60,489.00 L273.60,525.20 L306.50,525.20" />
<path class="dd" d="M353.10,505.80 L288.20,505.80 L288.20,508.70" />
<line class="f" x1="288.20" y1="508.70" x2="353.10" y2="508.70" />
<line class="t" x1="316.90" y1="508.70" x2="316.90" y2="541.60" />
<line class="t" x1="325.90" y1="508.70" x2="325.90" y2="541.60" />
<line class="t" x1="334.90" y1="508.70" x2="334.90" y2="541.60" />
<line class="t" x1="343.80" y1="508.70" x2="343.80" y2="541.60" />
<line class="f" x1="307.00" y1="525.20" x2="346.80" y2="525.20" />
<line class="f" x1="318.00" y1="508.70" x2="300.80" y2="541.60" />
<line class="ds" x1="315.30" y1="508.70" x2="298.10" y2="541.60" />
<line class="f" x1="316.90" y1="525.20" x2="308.50" y2="541.60" />
<line class="f" x1="307.30" y1="525.20" x2="316.90" y2="541.60" />
<line class="td" x1="345.80" y1="485.30" x2="352.80" y2="492.30" />
<line class="td" x1="352.80" y1="485.30" x2="345.80" y2="492.30" />
<text class="d" transform="translate(336.30,523.00) scale(0.8,1)" font-size="9.5" text-anchor="middle">16x18,9</text>
<text class="d" transform="translate(336.30,532.60) scale(0.8,1)" font-size="9.5" text-anchor="middle">26</text>
<g transform="translate(336.30,532.60)"><line class="bl" x1="-1.37" y1="1.6" x2="1.67" y2="1.6"/><line class="bl" x1="-3.80" y1="-7.22" x2="-0.20" y2="-7.22"/></g>
<rect class="kf" x="388.40" y="446.50" width="13.50" height="26.50" />
<rect class="ds" x="391.30" y="448.70" width="8.20" height="6.40" />
<rect class="ds" x="391.30" y="457.00" width="8.20" height="6.00" />
<path class="k2" d="M388.40,473.00 L388.40,541.50 L407.30,541.50 L407.30,533.00" />
<path class="f" d="M391.60,473.70 L391.60,539.00 L407.30,539.00" />
<line class="t" x1="407.30" y1="473.00" x2="407.30" y2="533.00" />
<line class="f" x1="388.40" y1="473.00" x2="407.30" y2="473.00" />
<line class="w" x1="397.70" y1="483.00" x2="397.70" y2="530.00" />
<path class="f" d="M397.70,483.00 L399.50,480.50 L403.50,480.50" />
<line class="f" x1="279.50" y1="313.20" x2="279.50" y2="464.60" />
<path class="f" d="M279.50,443.50 L353.20,443.50 L353.20,464.60" />
<line class="f" x1="349.50" y1="443.50" x2="349.50" y2="464.60" />
<rect class="f" x="259.30" y="353.60" width="20.20" height="20.40" />
<circle class="f" cx="265.50" cy="359.30" r="3.10" />
<circle class="f" cx="273.90" cy="359.30" r="2.50" />
<circle class="f" cx="265.50" cy="367.90" r="2.50" />
<circle class="f" cx="273.90" cy="367.90" r="3.10" />
<rect class="gb" x="277.30" y="363.20" width="1.30" height="9.60" />
<rect class="f" x="259.30" y="395.40" width="20.20" height="26.60" />
<rect class="t" x="264.30" y="397.60" width="13.60" height="10.50" rx="1.6"/>
<rect class="t" x="264.30" y="410.00" width="13.60" height="10.50" rx="1.6"/>
<rect class="f" x="315.40" y="360.20" width="21.30" height="52.10" />
<circle class="f" cx="346.60" cy="370.20" r="7.40" />
<circle class="tl" cx="346.60" cy="370.20" r="6.40" />
<circle class="f" cx="346.60" cy="386.10" r="7.40" />
<circle class="tl" cx="346.60" cy="386.10" r="6.40" />
<circle class="f" cx="346.60" cy="401.90" r="7.40" />
<circle class="tl" cx="346.60" cy="401.90" r="6.40" />
<rect class="f" x="459.00" y="344.60" width="14.20" height="13.80" rx="1.8"/>
<path class="kb" d="M459.0,347.2 Q459.0,345.3 461.0,345.3 L471.2,345.3 Q473.2,345.3 473.2,347.2" />
<line class="t" x1="460.30" y1="347.10" x2="460.30" y2="358.40" />
<line class="t" x1="471.90" y1="347.10" x2="471.90" y2="358.40" />
<rect class="f" x="479.60" y="344.60" width="14.70" height="13.80" rx="1.8"/>
<path class="kb" d="M479.6,347.2 Q479.6,345.3 481.6,345.3 L492.3,345.3 Q494.3,345.3 494.3,347.2" />
<line class="t" x1="480.90" y1="347.10" x2="480.90" y2="358.40" />
<line class="t" x1="493.00" y1="347.10" x2="493.00" y2="358.40" />
<rect class="f" x="459.00" y="386.60" width="14.20" height="14.30" rx="1.8"/>
<path class="kb" d="M459.0,398.3 Q459.0,400.2 461.0,400.2 L471.2,400.2 Q473.2,400.2 473.2,398.3" />
<line class="t" x1="460.30" y1="386.60" x2="460.30" y2="398.40" />
<line class="t" x1="471.90" y1="386.60" x2="471.90" y2="398.40" />
<rect class="f" x="479.60" y="386.60" width="14.70" height="14.30" rx="1.8"/>
<path class="kb" d="M479.6,398.3 Q479.6,400.2 481.6,400.2 L492.3,400.2 Q494.3,400.2 494.3,398.3" />
<line class="t" x1="480.90" y1="386.60" x2="480.90" y2="398.40" />
<line class="t" x1="493.00" y1="386.60" x2="493.00" y2="398.40" />
<rect class="f" x="434.60" y="365.30" width="13.80" height="14.50" rx="1.8"/>
<path class="kb" d="M437.2,365.3 Q435.3,365.3 435.3,367.3 L435.3,377.8 Q435.3,379.8 437.2,379.8" />
<line class="t" x1="437.10" y1="366.60" x2="448.40" y2="366.60" />
<line class="t" x1="437.10" y1="378.50" x2="448.40" y2="378.50" />
<rect class="f" x="500.70" y="365.30" width="13.80" height="14.50" rx="1.8"/>
<path class="kb" d="M511.9,365.3 Q513.8,365.3 513.8,367.3 L513.8,377.8 Q513.8,379.8 511.9,379.8" />
<line class="t" x1="500.70" y1="366.60" x2="512.00" y2="366.60" />
<line class="t" x1="500.70" y1="378.50" x2="512.00" y2="378.50" />
<rect class="tf" x="448.40" y="358.40" width="52.30" height="28.20" />
<rect class="f" x="484.00" y="431.90" width="20.60" height="20.60" rx="1.2"/>
<line class="k" x1="484.00" y1="436.00" x2="504.60" y2="436.00" />
<line class="t" x1="485.60" y1="436.00" x2="485.60" y2="452.50" />
<line class="t" x1="503.00" y1="436.00" x2="503.00" y2="452.50" />
<rect class="f" x="484.00" y="458.50" width="20.60" height="41.30" />
<rect class="f" x="484.00" y="505.30" width="20.60" height="20.70" rx="1.2"/>
<line class="k" x1="484.00" y1="521.80" x2="504.60" y2="521.80" />
<line class="t" x1="485.60" y1="505.30" x2="485.60" y2="521.80" />
<line class="t" x1="503.00" y1="505.30" x2="503.00" y2="521.80" />
<rect class="f" x="512.20" y="446.30" width="31.70" height="62.40" rx="1.2"/>
<line class="f" x1="534.70" y1="446.30" x2="534.70" y2="508.70" />
<line class="t" x1="537.50" y1="446.30" x2="537.50" y2="508.70" />
<line class="t" x1="512.20" y1="451.60" x2="534.70" y2="451.60" />
<line class="t" x1="512.20" y1="503.70" x2="534.70" y2="503.70" />
<line class="f" x1="512.20" y1="476.80" x2="534.70" y2="476.80" />
<path class="f" d="M259.30,551.20 L289.40,551.20 L289.40,565.80 L276.50,581.50 L259.30,581.50 Z" />
<path class="t" d="M260.90,552.80 L287.80,552.80 L287.80,565.20 L275.80,579.90 L260.90,579.90 Z" />
<line class="t" x1="260.90" y1="552.80" x2="274.00" y2="565.80" />
<line class="t" x1="287.80" y1="552.80" x2="274.00" y2="565.80" />
<line class="t" x1="260.90" y1="579.90" x2="274.00" y2="565.80" />
<circle class="k" cx="274.00" cy="565.80" r="0.70" />
<path class="f" d="M309.7,608.1 L309.7,592.5 A6.3,8.1 0 0 1 322.3,592.5 L322.3,608.1" />
<path class="t" d="M311.3,598.7 L311.3,593.0 A4.7,6.5 0 0 1 320.7,593.0 L320.7,598.7 Z" />
<line class="f" x1="309.70" y1="598.70" x2="322.30" y2="598.70" />
<path class="f" d="M284.4,608.1 L284.4,604.5 A8.95,8.6 0 0 1 302.3,604.5 L302.3,608.1" />
<ellipse class="t" cx="293.30" cy="602.60" rx="6.60" ry="3.60" />
<circle class="k" cx="293.30" cy="602.80" r="0.60" />
<line class="f" x1="302.80" y1="313.20" x2="302.80" y2="340.60" />
<line class="f" x1="356.00" y1="313.20" x2="356.00" y2="340.60" />
<path class="f" d="M329.3,313.3 A26.5,27.3 0 0 1 302.8,340.6" />
<path class="f" d="M329.3,313.3 A26.7,27.3 0 0 0 356.0,340.6" />
<line class="f" x1="329.30" y1="276.00" x2="329.30" y2="313.30" />
<rect class="t" x="430.50" y="300.40" width="30.10" height="2.20" />
<rect class="gb" x="460.60" y="299.00" width="23.70" height="1.80" />
<line class="f" x1="460.60" y1="299.00" x2="484.30" y2="299.00" />
<line class="f" x1="460.60" y1="300.80" x2="484.30" y2="300.80" />
<line class="t" x1="416.20" y1="298.20" x2="508.70" y2="298.20" />
<line class="f" x1="462.50" y1="276.00" x2="462.50" y2="316.00" />
<line class="f" x1="353.90" y1="556.40" x2="381.80" y2="556.40" />
<path class="f" d="M381.8,556.4 A28.5,29.2 0 0 1 353.3,585.6" />
<path class="f" d="M463.00,563.00 L488.80,563.00 L488.80,566.00" />
<path class="f" d="M488.8,566.0 A26.5,25 0 0 1 461.0,590.3" />
<line class="f" x1="424.60" y1="612.20" x2="424.60" y2="643.20" />
<path class="f" d="M392.5,614.0 A30.5,29.2 0 0 0 416.3,642.7" />
<line class="f" x1="416.30" y1="643.20" x2="424.60" y2="643.20" />
<path class="t" d="M327.60,634.00 L327.60,629.30 L354.50,629.30" />
<path class="f" d="M327.6,634.0 A29.3,26 0 0 0 356.9,657.4" />
<path class="f" d="M354.50,625.20 L354.50,627.50 L358.60,627.50 L358.60,612.20" />
<rect class="gb" x="375.70" y="668.00" width="20.50" height="2.50" />
<line class="k" x1="375.70" y1="668.00" x2="396.20" y2="668.00" />
<line class="k" x1="375.70" y1="670.50" x2="396.20" y2="670.50" />
<line class="t" x1="396.20" y1="668.00" x2="396.20" y2="677.30" />
<line class="k" x1="374.30" y1="662.00" x2="374.30" y2="677.40" />
<line class="k" x1="429.40" y1="662.00" x2="429.40" y2="677.40" />
<line class="k" x1="427.80" y1="662.00" x2="427.80" y2="677.40" />
<line class="f" x1="426.30" y1="669.50" x2="426.30" y2="701.30" />
<path class="f" d="M395.8,670.5 A30.5,30.8 0 0 0 426.3,701.3" />
<line class="k" x1="401.60" y1="672.50" x2="358.80" y2="742.80" />
<line class="t" x1="350.00" y1="742.80" x2="458.70" y2="742.80" />
<path class="k" d="M398.20,673.40 L401.60,672.50 L402.00,676.00" />
<line class="t" x1="357.50" y1="702.00" x2="357.50" y2="728.20" />
<line class="t" x1="446.50" y1="702.00" x2="446.50" y2="728.20" />
<line class="t" x1="357.50" y1="728.20" x2="446.50" y2="728.20" />
<line class="f" x1="404.20" y1="741.50" x2="404.20" y2="729.00" />
<path class="f" d="M398.70,734.50 L404.20,729.00 L409.70,734.50" />
<rect class="rb" x="386.30" y="360.00" width="15.00" height="12.00" />
<text class="rm" transform="translate(394.00,369.20) scale(0.86,1)" text-anchor="middle">1.5</text>
<line class="ru" x1="394.30" y1="370.70" x2="399.00" y2="370.70" />
<rect class="rb" x="302.20" y="558.70" width="15.20" height="11.90" />
<text class="rm" transform="translate(310.00,567.80) scale(0.86,1)" text-anchor="middle">1.3</text>
<line class="ru" x1="310.30" y1="569.30" x2="315.00" y2="569.30" />
<rect class="rb" x="393.80" y="569.50" width="15.00" height="11.80" />
<text class="rm" transform="translate(401.50,578.50) scale(0.86,1)" text-anchor="middle">1.4</text>
<line class="ru" x1="401.80" y1="580.00" x2="406.50" y2="580.00" />
<rect class="rb" x="511.30" y="589.50" width="15.70" height="11.10" />
<text class="rm" transform="translate(519.35,597.80) scale(0.86,1)" text-anchor="middle">1.6</text>
<line class="ru" x1="519.65" y1="599.30" x2="524.35" y2="599.30" />
<rect class="rb" x="266.30" y="628.60" width="14.90" height="11.60" />
<text class="rm" transform="translate(273.95,637.40) scale(0.86,1)" text-anchor="middle">1.2</text>
<line class="ru" x1="274.25" y1="638.90" x2="278.95" y2="638.90" />
<rect class="rb" x="431.30" y="634.20" width="15.10" height="11.80" />
<text class="rm" transform="translate(439.05,643.20) scale(0.86,1)" text-anchor="middle">1.1</text>
<line class="ru" x1="439.35" y1="644.70" x2="444.05" y2="644.70" />
<circle class="tc" cx="329.30" cy="270.30" r="5.90" />
<text class="tg" transform="translate(329.30,272.90) scale(0.8,1)" text-anchor="middle">D1</text>
<rect class="hl" x="320.20" y="283.80" width="18.00" height="10.00" />
<text class="d b" transform="translate(324.80,291.80) scale(0.84,1)" font-size="9.5" text-anchor="middle">88</text>
<text class="d b" transform="translate(333.60,291.80) scale(0.84,1)" font-size="9.5" text-anchor="middle">35</text>
<g transform="translate(329.20,291.80)"><line class="bl" x1="-3" y1="1.8" x2="3.5" y2="1.8"/></g>
<circle class="tc" cx="462.80" cy="270.30" r="5.90" />
<text class="tg" transform="translate(462.80,272.90) scale(0.8,1)" text-anchor="middle">D2</text>
<rect class="hl" x="453.80" y="283.80" width="18.00" height="10.00" />
<text class="d b" transform="translate(458.40,291.80) scale(0.84,1)" font-size="9.5" text-anchor="middle">24</text>
<text class="d b" transform="translate(467.20,291.80) scale(0.84,1)" font-size="9.5" text-anchor="middle">35</text>
<g transform="translate(462.80,291.80)"><line class="bl" x1="-3" y1="1.8" x2="3.5" y2="1.8"/></g>
<line class="tl" x1="223.70" y1="594.10" x2="262.50" y2="594.10" />
<circle class="tc" cx="216.90" cy="594.10" r="6.40" />
<text class="tg" transform="translate(216.90,596.70) scale(0.8,1)" text-anchor="middle">O1</text>
<text class="d b" transform="translate(228.80,592.50) scale(0.8,1)" font-size="8.6" text-anchor="middle">88</text>
<text class="d b" transform="translate(229.80,601.70) scale(0.8,1)" font-size="8.6" text-anchor="middle">120</text>
<line class="t" x1="542.30" y1="468.60" x2="568.70" y2="468.60" />
<circle class="tc" cx="587.20" cy="468.60" r="6.00" />
<text class="tg" transform="translate(587.20,471.20) scale(0.8,1)" text-anchor="middle">P1</text>
<text class="d" transform="translate(601.30,469.30) rotate(-90) scale(0.84,1)" font-size="10.5" text-anchor="middle">C70</text>
<g transform="translate(601.30,469.30) rotate(-90)"><line class="bl" x1="-2.38" y1="1.6" x2="2.91" y2="1.6"/><line class="bl" x1="-6.61" y1="-7.98" x2="-3.01" y2="-7.98"/></g>
<text class="d b" transform="translate(573.60,467.00) scale(0.8,1)" font-size="8.6" text-anchor="middle">EA</text>
<text class="d b" transform="translate(573.60,476.20) scale(0.8,1)" font-size="8.6" text-anchor="middle">EA</text>
<line class="t" x1="330.00" y1="571.40" x2="357.80" y2="571.40" />
<circle class="tc" cx="324.10" cy="571.40" r="5.90" />
<text class="tg" transform="translate(324.10,574.00) scale(0.8,1)" text-anchor="middle">D3</text>
<text class="d b" transform="translate(339.80,569.80) scale(0.8,1)" font-size="8.6" text-anchor="middle">88</text>
<text class="d b" transform="translate(341.40,579.00) scale(0.8,1)" font-size="8.6" text-anchor="middle">203</text>
<circle class="tc" cx="486.20" cy="576.30" r="5.90" />
<text class="tg" transform="translate(486.20,578.90) scale(0.8,1)" text-anchor="middle">D5</text>
<text class="d b" transform="translate(472.30,574.70) scale(0.8,1)" font-size="8.6" text-anchor="middle">88</text>
<text class="d b" transform="translate(471.30,583.90) scale(0.8,1)" font-size="8.6" text-anchor="middle">203</text>
<line class="t" x1="455.00" y1="576.30" x2="480.50" y2="576.30" />
<line class="t" x1="409.50" y1="604.00" x2="409.50" y2="608.10" />
<line class="t" x1="409.50" y1="620.00" x2="409.50" y2="632.20" />
<circle class="tc" cx="409.50" cy="638.00" r="5.90" />
<text class="tg" transform="translate(409.50,640.60) scale(0.8,1)" text-anchor="middle">D1</text>
<text class="d b" transform="translate(405.00,628.40) scale(0.84,1)" font-size="8.8" text-anchor="middle">88</text>
<text class="d b" transform="translate(413.80,628.40) scale(0.84,1)" font-size="8.8" text-anchor="middle">88</text>
<g transform="translate(409.40,628.40)"><line class="bl" x1="-3" y1="1.8" x2="3.5" y2="1.8"/></g>
<line class="tl" x1="334.50" y1="642.80" x2="361.60" y2="642.80" />
<circle class="tc" cx="328.70" cy="642.80" r="5.90" />
<text class="tg" transform="translate(328.70,645.40) scale(0.8,1)" text-anchor="middle">D4</text>
<text class="d b" transform="translate(345.20,641.20) scale(0.8,1)" font-size="8.6" text-anchor="middle">88</text>
<text class="d b" transform="translate(346.80,650.40) scale(0.8,1)" font-size="8.6" text-anchor="middle">203</text>
<circle class="tc" cx="401.80" cy="703.50" r="5.90" />
<text class="tg" transform="translate(401.80,706.10) scale(0.8,1)" text-anchor="middle">D6</text>
<text class="d b" transform="translate(397.40,689.00) scale(0.84,1)" font-size="9.5" text-anchor="middle">85</text>
<text class="d b" transform="translate(406.20,689.00) scale(0.84,1)" font-size="9.5" text-anchor="middle">85</text>
<g transform="translate(401.80,689.00)"><line class="bl" x1="-3" y1="1.8" x2="3.5" y2="1.8"/></g>
<line class="t" x1="401.60" y1="657.30" x2="401.60" y2="697.60" />
<circle class="tc" cx="300.30" cy="727.80" r="6.30" />
<text class="tg" transform="translate(300.30,730.40) scale(0.8,1)" text-anchor="middle">O2</text>
<text class="d b" transform="translate(295.90,717.60) scale(0.84,1)" font-size="9.5" text-anchor="middle">85</text>
<text class="d b" transform="translate(304.70,717.60) scale(0.84,1)" font-size="9.5" text-anchor="middle">85</text>
<g transform="translate(300.30,717.60)"><line class="bl" x1="-3" y1="1.8" x2="3.5" y2="1.8"/></g>
<line class="f" x1="300.60" y1="682.00" x2="300.60" y2="721.50" />
<text class="d b" transform="translate(295.90,683.20) scale(0.84,1)" font-size="9.5" text-anchor="middle">ID</text>
<text class="d b" transform="translate(304.70,683.20) scale(0.84,1)" font-size="9.5" text-anchor="middle">12</text>
<g transform="translate(300.30,683.20)"><line class="bl" x1="-3" y1="1.8" x2="3.5" y2="1.8"/></g>
<circle class="tc" cx="503.70" cy="728.30" r="6.30" />
<text class="tg" transform="translate(503.70,730.90) scale(0.8,1)" text-anchor="middle">O3</text>
<text class="d b" transform="translate(499.30,717.60) scale(0.84,1)" font-size="9.5" text-anchor="middle">85</text>
<text class="d b" transform="translate(508.10,717.60) scale(0.84,1)" font-size="9.5" text-anchor="middle">85</text>
<g transform="translate(503.70,717.60)"><line class="bl" x1="-3" y1="1.8" x2="3.5" y2="1.8"/></g>
<line class="f" x1="502.80" y1="682.00" x2="502.80" y2="722.00" />
<text class="d b" transform="translate(500.10,683.20) scale(0.84,1)" font-size="9.5" text-anchor="middle">ID</text>
<text class="d b" transform="translate(508.90,683.20) scale(0.84,1)" font-size="9.5" text-anchor="middle">34</text>
<g transform="translate(504.50,683.20)"><line class="bl" x1="-3" y1="1.8" x2="3.5" y2="1.8"/></g>
<text class="bt" transform="translate(540.00,469.30) rotate(-90) scale(0.84,1)" font-size="8.5" text-anchor="middle">I-1</text>
<line class="t" x1="273.90" y1="313.20" x2="273.90" y2="464.60" />
<line class="tk" x1="272.00" y1="315.10" x2="275.80" y2="311.30" />
<line class="tl" x1="271.10" y1="313.20" x2="276.70" y2="313.20" />
<line class="tk" x1="272.00" y1="466.50" x2="275.80" y2="462.70" />
<line class="tl" x1="271.10" y1="464.60" x2="276.70" y2="464.60" />
<text class="d" transform="translate(273.60,388.30) rotate(-90) scale(0.84,1)" font-size="10.8" text-anchor="middle">437</text>
<g transform="translate(273.60,388.30) rotate(-90)"><line class="bl" x1="-2.45" y1="1.6" x2="2.99" y2="1.6"/><line class="bl" x1="-6.80" y1="-8.21" x2="-3.20" y2="-8.21"/></g>
<line class="t" x1="258.60" y1="449.70" x2="353.20" y2="449.70" />
<line class="tk" x1="256.70" y1="451.60" x2="260.50" y2="447.80" />
<line class="tl" x1="258.60" y1="446.90" x2="258.60" y2="452.50" />
<line class="tk" x1="351.30" y1="451.60" x2="355.10" y2="447.80" />
<line class="tl" x1="353.20" y1="446.90" x2="353.20" y2="452.50" />
<text class="d" transform="translate(306.50,448.90) scale(0.84,1)" font-size="10.8" text-anchor="middle">272</text>
<g transform="translate(306.50,448.90)"><line class="bl" x1="-2.45" y1="1.6" x2="2.99" y2="1.6"/><line class="bl" x1="-6.80" y1="-8.21" x2="-3.20" y2="-8.21"/></g>
<line class="t" x1="343.60" y1="441.50" x2="343.60" y2="466.60" />
<line class="tk" x1="341.70" y1="445.40" x2="345.50" y2="441.60" />
<line class="tl" x1="340.80" y1="443.50" x2="346.40" y2="443.50" />
<line class="tk" x1="341.70" y1="466.50" x2="345.50" y2="462.70" />
<line class="tl" x1="340.80" y1="464.60" x2="346.40" y2="464.60" />
<text class="d" transform="translate(342.40,453.80) rotate(-90) scale(0.84,1)" font-size="10.8" text-anchor="middle">60</text>
<g transform="translate(342.40,453.80) rotate(-90)"><line class="bl" x1="-1.63" y1="1.6" x2="2.00" y2="1.6"/><line class="bl" x1="-4.54" y1="-8.21" x2="-0.94" y2="-8.21"/></g>
<line class="t" x1="384.40" y1="437.20" x2="405.90" y2="437.20" />
<line class="tk" x1="386.50" y1="439.10" x2="390.30" y2="435.30" />
<line class="tl" x1="388.40" y1="434.40" x2="388.40" y2="440.00" />
<line class="tk" x1="400.00" y1="439.10" x2="403.80" y2="435.30" />
<line class="tl" x1="401.90" y1="434.40" x2="401.90" y2="440.00" />
<text class="d" transform="translate(383.00,436.50) rotate(20) scale(0.84,1)" font-size="10.8" text-anchor="middle">36</text>
<g transform="translate(383.00,436.50) rotate(20)"><line class="bl" x1="-1.63" y1="1.6" x2="2.00" y2="1.6"/><line class="bl" x1="-4.54" y1="-8.21" x2="-0.94" y2="-8.21"/></g>
<line class="t" x1="411.60" y1="444.50" x2="411.60" y2="475.00" />
<line class="tk" x1="409.70" y1="448.40" x2="413.50" y2="444.60" />
<line class="tl" x1="408.80" y1="446.50" x2="414.40" y2="446.50" />
<line class="tk" x1="409.70" y1="465.60" x2="413.50" y2="461.80" />
<line class="tl" x1="408.80" y1="463.70" x2="414.40" y2="463.70" />
<line class="tk" x1="409.70" y1="474.90" x2="413.50" y2="471.10" />
<line class="tl" x1="408.80" y1="473.00" x2="414.40" y2="473.00" />
<text class="d" transform="translate(410.40,455.00) rotate(-90) scale(0.84,1)" font-size="10.8" text-anchor="middle">50</text>
<g transform="translate(410.40,455.00) rotate(-90)"><line class="bl" x1="-1.63" y1="1.6" x2="2.00" y2="1.6"/><line class="bl" x1="-4.54" y1="-8.21" x2="-0.94" y2="-8.21"/></g>
<line class="t" x1="353.20" y1="481.90" x2="388.40" y2="481.90" />
<line class="tk" x1="351.30" y1="483.80" x2="355.10" y2="480.00" />
<line class="tl" x1="353.20" y1="479.10" x2="353.20" y2="484.70" />
<line class="tk" x1="386.50" y1="483.80" x2="390.30" y2="480.00" />
<line class="tl" x1="388.40" y1="479.10" x2="388.40" y2="484.70" />
<text class="d" transform="translate(371.20,481.10) scale(0.84,1)" font-size="10.8" text-anchor="middle">104</text>
<g transform="translate(371.20,481.10)"><line class="bl" x1="-2.45" y1="1.6" x2="2.99" y2="1.6"/><line class="bl" x1="-6.80" y1="-8.21" x2="-3.20" y2="-8.21"/></g>
<line class="t" x1="373.40" y1="481.90" x2="373.40" y2="690.00" />
<line class="tk" x1="371.50" y1="483.80" x2="375.30" y2="480.00" />
<line class="tl" x1="370.60" y1="481.90" x2="376.20" y2="481.90" />
<line class="tk" x1="371.50" y1="543.50" x2="375.30" y2="539.70" />
<line class="tl" x1="370.60" y1="541.60" x2="376.20" y2="541.60" />
<line class="tk" x1="371.50" y1="551.70" x2="375.30" y2="547.90" />
<line class="tl" x1="370.60" y1="549.80" x2="376.20" y2="549.80" />
<line class="tk" x1="371.50" y1="558.30" x2="375.30" y2="554.50" />
<line class="tl" x1="370.60" y1="556.40" x2="376.20" y2="556.40" />
<line class="tk" x1="371.50" y1="587.50" x2="375.30" y2="583.70" />
<line class="tl" x1="370.60" y1="585.60" x2="376.20" y2="585.60" />
<line class="tk" x1="371.50" y1="610.00" x2="375.30" y2="606.20" />
<line class="tl" x1="370.60" y1="608.10" x2="376.20" y2="608.10" />
<line class="tk" x1="371.50" y1="621.40" x2="375.30" y2="617.60" />
<line class="tl" x1="370.60" y1="619.50" x2="376.20" y2="619.50" />
<line class="tk" x1="371.50" y1="659.50" x2="375.30" y2="655.70" />
<line class="tl" x1="370.60" y1="657.60" x2="376.20" y2="657.60" />
<line class="tk" x1="371.50" y1="679.30" x2="375.30" y2="675.50" />
<line class="tl" x1="370.60" y1="677.40" x2="376.20" y2="677.40" />
<text class="d" transform="translate(372.30,507.50) rotate(-90) scale(0.84,1)" font-size="10.8" text-anchor="middle">199</text>
<g transform="translate(372.30,507.50) rotate(-90)"><line class="bl" x1="-2.45" y1="1.6" x2="2.99" y2="1.6"/><line class="bl" x1="-6.80" y1="-8.21" x2="-3.20" y2="-8.21"/></g>
<text class="d" transform="translate(366.80,542.50) rotate(-90) scale(0.84,1)" font-size="10.8" text-anchor="middle">54</text>
<g transform="translate(366.80,542.50) rotate(-90)"><line class="bl" x1="-1.63" y1="1.6" x2="2.00" y2="1.6"/><line class="bl" x1="-4.54" y1="-8.21" x2="-0.94" y2="-8.21"/></g>
<text class="d" transform="translate(366.80,557.50) rotate(-90) scale(0.84,1)" font-size="10.8" text-anchor="middle">19</text>
<g transform="translate(366.80,557.50) rotate(-90)"><line class="bl" x1="-1.63" y1="1.6" x2="2.00" y2="1.6"/><line class="bl" x1="-4.54" y1="-8.21" x2="-0.94" y2="-8.21"/></g>
<text class="d" transform="translate(372.30,571.30) rotate(-90) scale(0.84,1)" font-size="10.8" text-anchor="middle">90</text>
<g transform="translate(372.30,571.30) rotate(-90)"><line class="bl" x1="-1.63" y1="1.6" x2="2.00" y2="1.6"/><line class="bl" x1="-4.54" y1="-8.21" x2="-0.94" y2="-8.21"/></g>
<text class="d" transform="translate(372.30,597.50) rotate(-90) scale(0.84,1)" font-size="10.8" text-anchor="middle">60</text>
<g transform="translate(372.30,597.50) rotate(-90)"><line class="bl" x1="-1.63" y1="1.6" x2="2.00" y2="1.6"/><line class="bl" x1="-4.54" y1="-8.21" x2="-0.94" y2="-8.21"/></g>
<text class="d" transform="translate(376.20,619.50) rotate(-90) scale(0.84,1)" font-size="11" text-anchor="middle">95</text>
<g transform="translate(376.20,619.50) rotate(-90)"><line class="bl" x1="-1.66" y1="1.6" x2="2.03" y2="1.6"/><line class="bl" x1="-4.62" y1="-8.36" x2="-1.02" y2="-8.36"/></g>
<text class="d" transform="translate(372.50,637.00) rotate(-90) scale(0.84,1)" font-size="10.8" text-anchor="middle">143</text>
<g transform="translate(372.50,637.00) rotate(-90)"><line class="bl" x1="-2.45" y1="1.6" x2="2.99" y2="1.6"/><line class="bl" x1="-6.80" y1="-8.21" x2="-3.20" y2="-8.21"/></g>
<text class="d" transform="translate(404.60,484.60) scale(0.84,1)" font-size="8.5" text-anchor="middle">TIE</text>
<line class="t" x1="391.60" y1="532.40" x2="545.80" y2="532.40" />
<line class="tk" x1="389.70" y1="534.30" x2="393.50" y2="530.50" />
<line class="tl" x1="391.60" y1="529.60" x2="391.60" y2="535.20" />
<line class="tk" x1="405.40" y1="534.30" x2="409.20" y2="530.50" />
<line class="tl" x1="407.30" y1="529.60" x2="407.30" y2="535.20" />
<line class="tk" x1="456.40" y1="534.30" x2="460.20" y2="530.50" />
<line class="tl" x1="458.30" y1="529.60" x2="458.30" y2="535.20" />
<line class="tk" x1="543.90" y1="534.30" x2="547.70" y2="530.50" />
<line class="tl" x1="545.80" y1="529.60" x2="545.80" y2="535.20" />
<text class="d" transform="translate(400.20,531.60) scale(0.84,1)" font-size="10.8" text-anchor="middle">40</text>
<g transform="translate(400.20,531.60)"><line class="bl" x1="-1.63" y1="1.6" x2="2.00" y2="1.6"/><line class="bl" x1="-4.54" y1="-8.21" x2="-0.94" y2="-8.21"/></g>
<text class="d" transform="translate(432.20,531.60) scale(0.84,1)" font-size="10.8" text-anchor="middle">148</text>
<g transform="translate(432.20,531.60)"><line class="bl" x1="-2.45" y1="1.6" x2="2.99" y2="1.6"/><line class="bl" x1="-6.80" y1="-8.21" x2="-3.20" y2="-8.21"/></g>
<text class="d" transform="translate(502.00,531.60) scale(0.84,1)" font-size="10.8" text-anchor="middle">252</text>
<g transform="translate(502.00,531.60)"><line class="bl" x1="-2.45" y1="1.6" x2="2.99" y2="1.6"/><line class="bl" x1="-6.80" y1="-8.21" x2="-3.20" y2="-8.21"/></g>
<line class="t" x1="373.40" y1="555.60" x2="458.00" y2="555.60" />
<line class="tk" x1="371.50" y1="557.50" x2="375.30" y2="553.70" />
<line class="tl" x1="373.40" y1="552.80" x2="373.40" y2="558.40" />
<line class="tk" x1="456.10" y1="557.50" x2="459.90" y2="553.70" />
<line class="tl" x1="458.00" y1="552.80" x2="458.00" y2="558.40" />
<text class="d" transform="translate(406.20,554.80) scale(0.84,1)" font-size="10.8" text-anchor="middle">800</text>
<g transform="translate(406.20,554.80)"><line class="bl" x1="-2.45" y1="1.6" x2="2.99" y2="1.6"/><line class="bl" x1="-6.80" y1="-8.21" x2="-3.20" y2="-8.21"/></g>
<line class="t" x1="528.60" y1="313.20" x2="528.60" y2="541.70" />
<line class="tk" x1="526.70" y1="315.10" x2="530.50" y2="311.30" />
<line class="tl" x1="525.80" y1="313.20" x2="531.40" y2="313.20" />
<line class="tk" x1="526.70" y1="543.60" x2="530.50" y2="539.80" />
<line class="tl" x1="525.80" y1="541.70" x2="531.40" y2="541.70" />
<text class="d" transform="translate(527.50,427.50) rotate(-90) scale(0.84,1)" font-size="10.8" text-anchor="middle">661</text>
<g transform="translate(527.50,427.50) rotate(-90)"><line class="bl" x1="-2.45" y1="1.6" x2="2.99" y2="1.6"/><line class="bl" x1="-6.80" y1="-8.21" x2="-3.20" y2="-8.21"/></g>
<line class="t" x1="501.30" y1="541.70" x2="501.30" y2="686.00" />
<line class="tk" x1="499.40" y1="543.60" x2="503.20" y2="539.80" />
<line class="tl" x1="498.50" y1="541.70" x2="504.10" y2="541.70" />
<line class="tk" x1="499.40" y1="551.50" x2="503.20" y2="547.70" />
<line class="tl" x1="498.50" y1="549.60" x2="504.10" y2="549.60" />
<line class="tk" x1="499.40" y1="561.90" x2="503.20" y2="558.10" />
<line class="tl" x1="498.50" y1="560.00" x2="504.10" y2="560.00" />
<line class="tk" x1="499.40" y1="592.70" x2="503.20" y2="588.90" />
<line class="tl" x1="498.50" y1="590.80" x2="504.10" y2="590.80" />
<line class="tk" x1="499.40" y1="687.90" x2="503.20" y2="684.10" />
<line class="tl" x1="498.50" y1="686.00" x2="504.10" y2="686.00" />
<text class="d" transform="translate(500.20,542.50) rotate(-90) scale(0.84,1)" font-size="10.8" text-anchor="middle">50</text>
<g transform="translate(500.20,542.50) rotate(-90)"><line class="bl" x1="-1.63" y1="1.6" x2="2.00" y2="1.6"/><line class="bl" x1="-4.54" y1="-8.21" x2="-0.94" y2="-8.21"/></g>
<text class="d" transform="translate(500.20,575.00) rotate(-90) scale(0.84,1)" font-size="10.8" text-anchor="middle">90</text>
<g transform="translate(500.20,575.00) rotate(-90)"><line class="bl" x1="-1.63" y1="1.6" x2="2.00" y2="1.6"/><line class="bl" x1="-4.54" y1="-8.21" x2="-0.94" y2="-8.21"/></g>
<text class="d" transform="translate(500.20,638.80) rotate(-90) scale(0.84,1)" font-size="10.8" text-anchor="middle">279</text>
<g transform="translate(500.20,638.80) rotate(-90)"><line class="bl" x1="-2.45" y1="1.6" x2="2.99" y2="1.6"/><line class="bl" x1="-6.80" y1="-8.21" x2="-3.20" y2="-8.21"/></g>
<line class="t" x1="463.00" y1="627.00" x2="545.80" y2="627.00" />
<line class="tk" x1="461.10" y1="628.90" x2="464.90" y2="625.10" />
<line class="tl" x1="463.00" y1="624.20" x2="463.00" y2="629.80" />
<line class="tk" x1="543.90" y1="628.90" x2="547.70" y2="625.10" />
<line class="tl" x1="545.80" y1="624.20" x2="545.80" y2="629.80" />
<text class="d" transform="translate(503.80,626.20) scale(0.84,1)" font-size="10.8" text-anchor="middle">240</text>
<g transform="translate(503.80,626.20)"><line class="bl" x1="-2.45" y1="1.6" x2="2.99" y2="1.6"/><line class="bl" x1="-6.80" y1="-8.21" x2="-3.20" y2="-8.21"/></g>
<line class="t" x1="258.60" y1="585.60" x2="353.90" y2="585.60" />
<line class="tk" x1="256.70" y1="587.50" x2="260.50" y2="583.70" />
<line class="tl" x1="258.60" y1="582.80" x2="258.60" y2="588.40" />
<line class="tk" x1="348.60" y1="587.50" x2="352.40" y2="583.70" />
<line class="tl" x1="350.50" y1="582.80" x2="350.50" y2="588.40" />
<text class="d" transform="translate(304.40,584.20) scale(0.84,1)" font-size="10.8" text-anchor="middle">264</text>
<g transform="translate(304.40,584.20)"><line class="bl" x1="-2.45" y1="1.6" x2="2.99" y2="1.6"/><line class="bl" x1="-6.80" y1="-8.21" x2="-3.20" y2="-8.21"/></g>
<text class="d" transform="translate(269.80,593.70) rotate(-90) scale(0.84,1)" font-size="11" text-anchor="middle">584</text>
<g transform="translate(269.80,593.70) rotate(-90)"><line class="bl" x1="-2.49" y1="1.6" x2="3.05" y2="1.6"/><line class="bl" x1="-6.93" y1="-8.36" x2="-3.33" y2="-8.36"/></g>
<line class="t" x1="258.60" y1="593.70" x2="262.00" y2="593.70" />
<line class="t" x1="258.60" y1="621.00" x2="338.10" y2="621.00" />
<line class="tk" x1="256.70" y1="622.90" x2="260.50" y2="619.10" />
<line class="tl" x1="258.60" y1="618.20" x2="258.60" y2="623.80" />
<line class="tk" x1="336.20" y1="622.90" x2="340.00" y2="619.10" />
<line class="tl" x1="338.10" y1="618.20" x2="338.10" y2="623.80" />
<text class="d" transform="translate(298.00,620.20) scale(0.84,1)" font-size="10.8" text-anchor="middle">228</text>
<g transform="translate(298.00,620.20)"><line class="bl" x1="-2.45" y1="1.6" x2="2.99" y2="1.6"/><line class="bl" x1="-6.80" y1="-8.21" x2="-3.20" y2="-8.21"/></g>
<line class="t" x1="322.40" y1="608.10" x2="322.40" y2="702.00" />
<line class="tk" x1="320.50" y1="614.10" x2="324.30" y2="610.30" />
<line class="tl" x1="319.60" y1="612.20" x2="325.20" y2="612.20" />
<line class="tk" x1="320.50" y1="631.20" x2="324.30" y2="627.40" />
<line class="tl" x1="319.60" y1="629.30" x2="325.20" y2="629.30" />
<line class="tk" x1="320.50" y1="659.50" x2="324.30" y2="655.70" />
<line class="tl" x1="319.60" y1="657.60" x2="325.20" y2="657.60" />
<line class="tk" x1="320.50" y1="663.90" x2="324.30" y2="660.10" />
<line class="tl" x1="319.60" y1="662.00" x2="325.20" y2="662.00" />
<line class="tk" x1="320.50" y1="687.90" x2="324.30" y2="684.10" />
<line class="tl" x1="319.60" y1="686.00" x2="325.20" y2="686.00" />
<text class="d" transform="translate(321.30,606.00) rotate(-90) scale(0.84,1)" font-size="10.8" text-anchor="middle">36</text>
<g transform="translate(321.30,606.00) rotate(-90)"><line class="bl" x1="-1.63" y1="1.6" x2="2.00" y2="1.6"/><line class="bl" x1="-4.54" y1="-8.21" x2="-0.94" y2="-8.21"/></g>
<text class="d" transform="translate(321.30,631.60) rotate(-90) scale(0.84,1)" font-size="10.8" text-anchor="middle">1</text>
<g transform="translate(321.30,631.60) rotate(-90)"><line class="bl" x1="-0.82" y1="1.6" x2="1.00" y2="1.6"/><line class="bl" x1="-2.27" y1="-8.21" x2="1.33" y2="-8.21"/></g>
<text class="d" transform="translate(321.30,645.00) rotate(-90) scale(0.84,1)" font-size="10.8" text-anchor="middle">90</text>
<g transform="translate(321.30,645.00) rotate(-90)"><line class="bl" x1="-1.63" y1="1.6" x2="2.00" y2="1.6"/><line class="bl" x1="-4.54" y1="-8.21" x2="-0.94" y2="-8.21"/></g>
<text class="d" transform="translate(321.30,668.00) rotate(-90) scale(0.84,1)" font-size="10.8" text-anchor="middle">10</text>
<g transform="translate(321.30,668.00) rotate(-90)"><line class="bl" x1="-1.63" y1="1.6" x2="2.00" y2="1.6"/><line class="bl" x1="-4.54" y1="-8.21" x2="-0.94" y2="-8.21"/></g>
<text class="d" transform="translate(321.30,692.50) rotate(-90) scale(0.84,1)" font-size="10.8" text-anchor="middle">70</text>
<g transform="translate(321.30,692.50) rotate(-90)"><line class="bl" x1="-1.63" y1="1.6" x2="2.00" y2="1.6"/><line class="bl" x1="-4.54" y1="-8.21" x2="-0.94" y2="-8.21"/></g>
<line class="t" x1="334.60" y1="634.80" x2="359.20" y2="634.80" />
<line class="tk" x1="336.20" y1="636.70" x2="340.00" y2="632.90" />
<line class="tl" x1="338.10" y1="632.00" x2="338.10" y2="637.60" />
<line class="tk" x1="355.30" y1="636.70" x2="359.10" y2="632.90" />
<line class="tl" x1="357.20" y1="632.00" x2="357.20" y2="637.60" />
<text class="d" transform="translate(346.60,634.00) scale(0.84,1)" font-size="10.8" text-anchor="middle">50</text>
<g transform="translate(346.60,634.00)"><line class="bl" x1="-1.63" y1="1.6" x2="2.00" y2="1.6"/><line class="bl" x1="-4.54" y1="-8.21" x2="-0.94" y2="-8.21"/></g>
<line class="t" x1="258.60" y1="662.00" x2="358.50" y2="662.00" />
<line class="tk" x1="256.70" y1="663.90" x2="260.50" y2="660.10" />
<line class="tl" x1="258.60" y1="659.20" x2="258.60" y2="664.80" />
<line class="tk" x1="340.30" y1="663.90" x2="344.10" y2="660.10" />
<line class="tl" x1="342.20" y1="659.20" x2="342.20" y2="664.80" />
<line class="tk" x1="356.10" y1="663.90" x2="359.90" y2="660.10" />
<line class="tl" x1="358.00" y1="659.20" x2="358.00" y2="664.80" />
<text class="d" transform="translate(295.60,661.20) scale(0.84,1)" font-size="10.8" text-anchor="middle">240</text>
<g transform="translate(295.60,661.20)"><line class="bl" x1="-2.45" y1="1.6" x2="2.99" y2="1.6"/><line class="bl" x1="-6.80" y1="-8.21" x2="-3.20" y2="-8.21"/></g>
<text class="d" transform="translate(335.50,661.20) scale(0.84,1)" font-size="10.8" text-anchor="middle">38</text>
<g transform="translate(335.50,661.20)"><line class="bl" x1="-1.63" y1="1.6" x2="2.00" y2="1.6"/><line class="bl" x1="-4.54" y1="-8.21" x2="-0.94" y2="-8.21"/></g>
<line class="t" x1="358.20" y1="619.50" x2="459.60" y2="619.50" />
<line class="tk" x1="356.30" y1="621.40" x2="360.10" y2="617.60" />
<line class="tl" x1="358.20" y1="616.70" x2="358.20" y2="622.30" />
<line class="tk" x1="390.40" y1="621.40" x2="394.20" y2="617.60" />
<line class="tl" x1="392.30" y1="616.70" x2="392.30" y2="622.30" />
<line class="tk" x1="424.50" y1="621.40" x2="428.30" y2="617.60" />
<line class="tl" x1="426.40" y1="616.70" x2="426.40" y2="622.30" />
<line class="tk" x1="457.70" y1="621.40" x2="461.50" y2="617.60" />
<line class="tl" x1="459.60" y1="616.70" x2="459.60" y2="622.30" />
<text class="d" transform="translate(409.00,618.70) scale(0.84,1)" font-size="10.8" text-anchor="middle">100</text>
<g transform="translate(409.00,618.70)"><line class="bl" x1="-2.45" y1="1.6" x2="2.99" y2="1.6"/><line class="bl" x1="-6.80" y1="-8.21" x2="-3.20" y2="-8.21"/></g>
<text class="d" transform="translate(442.00,618.70) scale(0.84,1)" font-size="10.8" text-anchor="middle">91</text>
<g transform="translate(442.00,618.70)"><line class="bl" x1="-1.63" y1="1.6" x2="2.00" y2="1.6"/><line class="bl" x1="-4.54" y1="-8.21" x2="-0.94" y2="-8.21"/></g>
<line class="t" x1="358.50" y1="657.60" x2="459.60" y2="657.60" />
<line class="tk" x1="356.60" y1="659.50" x2="360.40" y2="655.70" />
<line class="tl" x1="358.50" y1="654.80" x2="358.50" y2="660.40" />
<line class="tk" x1="457.70" y1="659.50" x2="461.50" y2="655.70" />
<line class="tl" x1="459.60" y1="654.80" x2="459.60" y2="660.40" />
<text class="d" transform="translate(408.00,656.80) scale(0.84,1)" font-size="10.8" text-anchor="middle">286</text>
<g transform="translate(408.00,656.80)"><line class="bl" x1="-2.45" y1="1.6" x2="2.99" y2="1.6"/><line class="bl" x1="-6.80" y1="-8.21" x2="-3.20" y2="-8.21"/></g>
<line class="t" x1="346.20" y1="722.40" x2="458.60" y2="722.40" />
<line class="tk" x1="344.30" y1="724.30" x2="348.10" y2="720.50" />
<line class="tl" x1="346.20" y1="719.60" x2="346.20" y2="725.20" />
<line class="tk" x1="355.60" y1="724.30" x2="359.40" y2="720.50" />
<line class="tl" x1="357.50" y1="719.60" x2="357.50" y2="725.20" />
<line class="tk" x1="444.60" y1="724.30" x2="448.40" y2="720.50" />
<line class="tl" x1="446.50" y1="719.60" x2="446.50" y2="725.20" />
<line class="tk" x1="456.70" y1="724.30" x2="460.50" y2="720.50" />
<line class="tl" x1="458.60" y1="719.60" x2="458.60" y2="725.20" />
<text class="d" transform="translate(338.70,721.60) scale(0.84,1)" font-size="10.8" text-anchor="middle">35</text>
<g transform="translate(338.70,721.60)"><line class="bl" x1="-1.63" y1="1.6" x2="2.00" y2="1.6"/><line class="bl" x1="-4.54" y1="-8.21" x2="-0.94" y2="-8.21"/></g>
<text class="d" transform="translate(397.30,721.60) scale(0.84,1)" font-size="10.8" text-anchor="middle">256</text>
<g transform="translate(397.30,721.60)"><line class="bl" x1="-2.45" y1="1.6" x2="2.99" y2="1.6"/><line class="bl" x1="-6.80" y1="-8.21" x2="-3.20" y2="-8.21"/></g>
<text class="d" transform="translate(440.20,721.60) scale(0.84,1)" font-size="10.8" text-anchor="middle">35</text>
<g transform="translate(440.20,721.60)"><line class="bl" x1="-1.63" y1="1.6" x2="2.00" y2="1.6"/><line class="bl" x1="-4.54" y1="-8.21" x2="-0.94" y2="-8.21"/></g>
<line class="t" x1="372.80" y1="675.40" x2="372.80" y2="730.20" />
<line class="tk" x1="370.90" y1="679.30" x2="374.70" y2="675.50" />
<line class="tl" x1="370.00" y1="677.40" x2="375.60" y2="677.40" />
<line class="tk" x1="370.90" y1="730.10" x2="374.70" y2="726.30" />
<line class="tl" x1="370.00" y1="728.20" x2="375.60" y2="728.20" />
<text class="d" transform="translate(371.60,702.50) rotate(-90) scale(0.84,1)" font-size="10.8" text-anchor="middle">130</text>
<g transform="translate(371.60,702.50) rotate(-90)"><line class="bl" x1="-2.45" y1="1.6" x2="2.99" y2="1.6"/><line class="bl" x1="-6.80" y1="-8.21" x2="-3.20" y2="-8.21"/></g>
<line class="t" x1="476.30" y1="699.00" x2="476.30" y2="744.50" />
<line class="tk" x1="474.40" y1="703.90" x2="478.20" y2="700.10" />
<line class="tl" x1="473.50" y1="702.00" x2="479.10" y2="702.00" />
<line class="tk" x1="474.40" y1="743.40" x2="478.20" y2="739.60" />
<line class="tl" x1="473.50" y1="741.50" x2="479.10" y2="741.50" />
<text class="d" transform="translate(475.10,721.50) rotate(-90) scale(0.84,1)" font-size="10.8" text-anchor="middle">119</text>
<g transform="translate(475.10,721.50) rotate(-90)"><line class="bl" x1="-2.45" y1="1.6" x2="2.99" y2="1.6"/><line class="bl" x1="-6.80" y1="-8.21" x2="-3.20" y2="-8.21"/></g>
<text class="dl" x="227.5" y="746.0" font-size="10.5" textLength="123.5" lengthAdjust="spacingAndGlyphs">Drzwi z naświetlem (150x205+150x30)</text>
<line class="ul" x1="227.50" y1="747.70" x2="351.00" y2="747.70" />
<line class="da" x1="258.60" y1="468.20" x2="353.20" y2="468.20" stroke-dashoffset="13.10"/>
<line class="da" x1="258.60" y1="546.00" x2="353.90" y2="546.00" stroke-dashoffset="13.90"/>
<line class="da" x1="458.00" y1="546.00" x2="545.80" y2="546.00" stroke-dashoffset="10.30"/>
</svg>
</body></html>
